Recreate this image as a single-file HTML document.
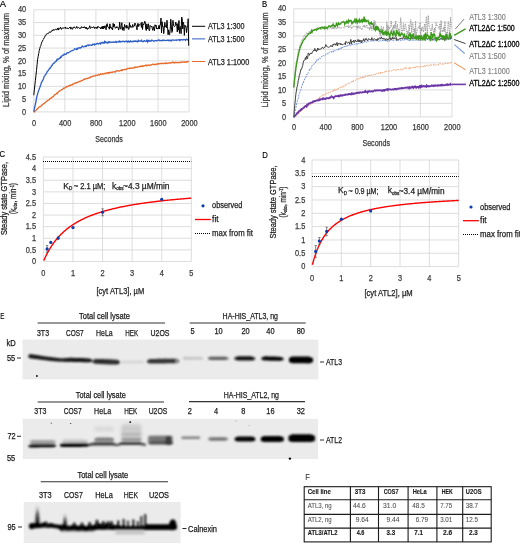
<!DOCTYPE html><html><head><meta charset="utf-8"><style>
html,body{margin:0;padding:0;background:#fff;width:520px;height:543px;overflow:hidden;position:relative;font-family:"Liberation Sans",sans-serif}
</style></head><body>
<svg width="520" height="543" viewBox="0 0 520 543" style="position:absolute;left:0;top:0">
<defs><filter id="gb" x="0" y="0" width="520" height="543" filterUnits="userSpaceOnUse"><feGaussianBlur stdDeviation="0.3"/></filter><filter id="bl" x="-5%" y="-50%" width="110%" height="200%"><feGaussianBlur stdDeviation="0.85"/></filter><filter id="bl2" x="-10%" y="-50%" width="120%" height="200%"><feGaussianBlur stdDeviation="1.6"/></filter></defs>
<g font-family='"Liberation Sans", sans-serif' filter="url(#gb)">
<line x1="33.8" y1="111.90" x2="189.1" y2="111.90" stroke="#d9d9d9" stroke-width="0.9"/>
<text x="26.20" y="114.56" font-size="8.5" text-anchor="end" textLength="4.11" lengthAdjust="spacingAndGlyphs" fill="#3a3a3a" stroke="#3a3a3a" stroke-width="0.25">0</text>
<line x1="33.8" y1="99.14" x2="189.1" y2="99.14" stroke="#d9d9d9" stroke-width="0.9"/>
<text x="26.20" y="101.80" font-size="8.5" text-anchor="end" textLength="4.11" lengthAdjust="spacingAndGlyphs" fill="#3a3a3a" stroke="#3a3a3a" stroke-width="0.25">5</text>
<line x1="33.8" y1="86.38" x2="189.1" y2="86.38" stroke="#d9d9d9" stroke-width="0.9"/>
<text x="26.20" y="89.03" font-size="8.5" text-anchor="end" textLength="8.23" lengthAdjust="spacingAndGlyphs" fill="#3a3a3a" stroke="#3a3a3a" stroke-width="0.25">10</text>
<line x1="33.8" y1="73.61" x2="189.1" y2="73.61" stroke="#d9d9d9" stroke-width="0.9"/>
<text x="26.20" y="76.27" font-size="8.5" text-anchor="end" textLength="8.23" lengthAdjust="spacingAndGlyphs" fill="#3a3a3a" stroke="#3a3a3a" stroke-width="0.25">15</text>
<line x1="33.8" y1="60.85" x2="189.1" y2="60.85" stroke="#d9d9d9" stroke-width="0.9"/>
<text x="26.20" y="63.51" font-size="8.5" text-anchor="end" textLength="8.23" lengthAdjust="spacingAndGlyphs" fill="#3a3a3a" stroke="#3a3a3a" stroke-width="0.25">20</text>
<line x1="33.8" y1="48.09" x2="189.1" y2="48.09" stroke="#d9d9d9" stroke-width="0.9"/>
<text x="26.20" y="50.75" font-size="8.5" text-anchor="end" textLength="8.23" lengthAdjust="spacingAndGlyphs" fill="#3a3a3a" stroke="#3a3a3a" stroke-width="0.25">25</text>
<line x1="33.8" y1="35.32" x2="189.1" y2="35.32" stroke="#d9d9d9" stroke-width="0.9"/>
<text x="26.20" y="37.98" font-size="8.5" text-anchor="end" textLength="8.23" lengthAdjust="spacingAndGlyphs" fill="#3a3a3a" stroke="#3a3a3a" stroke-width="0.25">30</text>
<line x1="33.8" y1="22.56" x2="189.1" y2="22.56" stroke="#d9d9d9" stroke-width="0.9"/>
<text x="26.20" y="25.22" font-size="8.5" text-anchor="end" textLength="8.23" lengthAdjust="spacingAndGlyphs" fill="#3a3a3a" stroke="#3a3a3a" stroke-width="0.25">35</text>
<line x1="33.8" y1="9.80" x2="189.1" y2="9.80" stroke="#d9d9d9" stroke-width="0.9"/>
<text x="26.20" y="12.46" font-size="8.5" text-anchor="end" textLength="8.23" lengthAdjust="spacingAndGlyphs" fill="#3a3a3a" stroke="#3a3a3a" stroke-width="0.25">40</text>
<line x1="33.80" y1="9.8" x2="33.80" y2="111.9" stroke="#d9d9d9" stroke-width="0.9"/>
<text x="34.10" y="126.06" font-size="8.5" text-anchor="middle" textLength="4.11" lengthAdjust="spacingAndGlyphs" fill="#3a3a3a" stroke="#3a3a3a" stroke-width="0.25">0</text>
<line x1="64.86" y1="9.8" x2="64.86" y2="111.9" stroke="#d9d9d9" stroke-width="0.9"/>
<text x="65.16" y="126.06" font-size="8.5" text-anchor="middle" textLength="12.34" lengthAdjust="spacingAndGlyphs" fill="#3a3a3a" stroke="#3a3a3a" stroke-width="0.25">400</text>
<line x1="95.92" y1="9.8" x2="95.92" y2="111.9" stroke="#d9d9d9" stroke-width="0.9"/>
<text x="96.22" y="126.06" font-size="8.5" text-anchor="middle" textLength="12.34" lengthAdjust="spacingAndGlyphs" fill="#3a3a3a" stroke="#3a3a3a" stroke-width="0.25">800</text>
<line x1="126.98" y1="9.8" x2="126.98" y2="111.9" stroke="#d9d9d9" stroke-width="0.9"/>
<text x="127.28" y="126.06" font-size="8.5" text-anchor="middle" textLength="16.45" lengthAdjust="spacingAndGlyphs" fill="#3a3a3a" stroke="#3a3a3a" stroke-width="0.25">1200</text>
<line x1="158.04" y1="9.8" x2="158.04" y2="111.9" stroke="#d9d9d9" stroke-width="0.9"/>
<text x="158.34" y="126.06" font-size="8.5" text-anchor="middle" textLength="16.45" lengthAdjust="spacingAndGlyphs" fill="#3a3a3a" stroke="#3a3a3a" stroke-width="0.25">1600</text>
<line x1="189.10" y1="9.8" x2="189.10" y2="111.9" stroke="#d9d9d9" stroke-width="0.9"/>
<text x="189.40" y="126.06" font-size="8.5" text-anchor="middle" textLength="16.45" lengthAdjust="spacingAndGlyphs" fill="#3a3a3a" stroke="#3a3a3a" stroke-width="0.25">2000</text>
<text x="95.30" y="142.06" font-size="8.5" textLength="27.5" lengthAdjust="spacingAndGlyphs" fill="#3a3a3a" stroke="#3a3a3a" stroke-width="0.25">Seconds</text>
<text x="5.50" y="63.06" font-size="8.5" text-anchor="middle" textLength="94" lengthAdjust="spacingAndGlyphs" transform="rotate(-90 5.50 60.00)" fill="#3a3a3a" stroke="#3a3a3a" stroke-width="0.25">Lipid mixing, % of maximum</text>
<polyline fill="none" stroke="#e8692a" stroke-width="1.3" points="33.80,111.94 34.34,112.09 34.89,110.89 35.43,110.91 35.97,110.41 36.52,109.79 37.06,108.85 37.60,108.82 38.15,108.20 38.69,107.38 39.24,106.97 39.78,106.96 40.32,106.55 40.87,106.37 41.41,105.79 41.95,105.06 42.50,104.63 43.04,104.27 43.58,103.61 44.13,103.63 44.67,103.02 45.21,102.39 45.76,102.00 46.30,101.45 46.85,101.19 47.39,100.93 47.93,100.32 48.48,100.23 49.02,99.95 49.56,98.94 50.11,98.66 50.65,98.12 51.19,98.19 51.74,97.40 52.28,97.02 52.82,96.65 53.37,96.56 53.91,95.64 54.45,94.89 55.00,94.59 55.54,94.41 56.09,93.84 56.63,93.22 57.17,93.71 57.72,92.62 58.26,92.05 58.80,91.62 59.35,90.97 59.89,90.73 60.43,90.56 60.98,90.20 61.52,89.71 62.06,89.70 62.61,89.23 63.15,88.65 63.70,88.06 64.24,88.29 64.78,87.96 65.33,87.61 65.87,87.03 66.41,87.10 66.96,86.45 67.50,86.80 68.04,86.34 68.59,86.09 69.13,85.59 69.67,85.27 70.22,85.68 70.76,85.29 71.30,84.74 71.85,84.76 72.39,84.76 72.94,83.88 73.48,83.80 74.02,83.58 74.57,83.61 75.11,83.01 75.65,83.12 76.20,82.56 76.74,82.86 77.28,82.64 77.83,82.15 78.37,82.17 78.91,81.61 79.46,81.50 80.00,81.59 80.55,81.12 81.09,81.01 81.63,80.47 82.18,80.64 82.72,80.37 83.26,79.72 83.81,79.24 84.35,79.07 84.89,79.34 85.44,79.07 85.98,78.51 86.52,78.71 87.07,78.71 87.61,78.21 88.16,77.90 88.70,78.01 89.24,78.01 89.79,77.75 90.33,77.01 90.87,77.17 91.42,76.82 91.96,76.54 92.50,76.25 93.05,76.31 93.59,75.93 94.13,76.12 94.68,75.82 95.22,75.84 95.76,75.15 96.31,75.31 96.85,75.37 97.40,75.15 97.94,75.00 98.48,74.65 99.03,75.13 99.57,74.89 100.11,74.62 100.66,73.78 101.20,74.08 101.74,74.26 102.29,73.95 102.83,73.51 103.37,74.00 103.92,73.93 104.46,73.43 105.01,73.50 105.55,73.35 106.09,73.54 106.64,72.80 107.18,72.75 107.72,72.93 108.27,72.78 108.81,73.36 109.35,72.56 109.90,72.66 110.44,72.38 110.98,72.20 111.53,72.34 112.07,72.57 112.61,71.93 113.16,72.09 113.70,71.87 114.25,71.82 114.79,71.63 115.33,72.01 115.88,71.00 116.42,71.12 116.96,70.79 117.51,70.45 118.05,70.83 118.59,71.18 119.14,70.83 119.68,70.79 120.22,70.50 120.77,70.23 121.31,70.65 121.86,69.94 122.40,70.30 122.94,69.73 123.49,69.72 124.03,69.67 124.57,69.50 125.12,69.51 125.66,69.42 126.20,69.59 126.75,69.07 127.29,68.49 127.83,68.35 128.38,68.42 128.92,68.47 129.46,68.72 130.01,68.08 130.55,68.36 131.10,68.26 131.64,68.21 132.18,68.01 132.73,68.04 133.27,67.85 133.81,68.00 134.36,67.72 134.90,66.93 135.44,67.43 135.99,67.37 136.53,67.07 137.07,66.92 137.62,67.29 138.16,66.95 138.71,66.57 139.25,66.63 139.79,66.57 140.34,66.10 140.88,66.57 141.42,66.28 141.97,66.34 142.51,65.73 143.05,66.51 143.60,66.09 144.14,65.96 144.68,65.56 145.23,65.49 145.77,65.19 146.31,65.86 146.86,65.18 147.40,65.36 147.95,65.37 148.49,64.98 149.03,65.27 149.58,65.48 150.12,64.97 150.66,65.18 151.21,64.88 151.75,64.55 152.29,64.49 152.84,64.09 153.38,64.48 153.92,64.75 154.47,64.49 155.01,64.47 155.56,64.48 156.10,64.00 156.64,64.22 157.19,64.50 157.73,63.76 158.27,63.92 158.82,63.75 159.36,63.76 159.90,63.58 160.45,63.68 160.99,63.32 161.53,63.48 162.08,63.44 162.62,63.38 163.16,63.81 163.71,63.43 164.25,63.41 164.80,63.24 165.34,63.59 165.88,62.78 166.43,63.13 166.97,63.42 167.51,63.50 168.06,63.09 168.60,63.00 169.14,63.11 169.69,62.86 170.23,63.01 170.77,62.66 171.32,62.94 171.86,62.73 172.41,62.43 172.95,61.98 173.49,62.85 174.04,62.68 174.58,62.74 175.12,62.28 175.67,62.74 176.21,62.54 176.75,62.39 177.30,62.59 177.84,62.56 178.38,62.40 178.93,62.79 179.47,62.59 180.01,62.30 180.56,62.13 181.10,62.18 181.65,62.56 182.19,62.20 182.73,61.86 183.28,61.90 183.82,62.04 184.36,62.22 184.91,61.82 185.45,62.11 185.99,62.24 186.54,62.13 187.08,61.54 187.62,61.84 188.17,61.59 188.71,62.00"/>
<polyline fill="none" stroke="#2f5fc4" stroke-width="1.3" points="33.80,111.90 34.34,108.48 34.89,106.51 35.43,103.77 35.97,101.75 36.52,98.02 37.06,95.98 37.60,93.91 38.15,92.11 38.69,90.61 39.24,88.92 39.78,87.53 40.32,86.00 40.87,84.46 41.41,82.53 41.95,81.58 42.50,80.57 43.04,79.58 43.58,78.47 44.13,76.53 44.67,75.93 45.21,75.13 45.76,74.36 46.30,73.76 46.85,72.49 47.39,71.28 47.93,70.95 48.48,70.09 49.02,69.31 49.56,68.43 50.11,68.35 50.65,67.13 51.19,66.68 51.74,65.35 52.28,65.33 52.82,64.19 53.37,63.22 53.91,63.34 54.45,62.88 55.00,62.02 55.54,61.55 56.09,61.41 56.63,60.35 57.17,59.26 57.72,59.65 58.26,59.17 58.80,59.04 59.35,58.08 59.89,58.26 60.43,57.79 60.98,56.48 61.52,56.93 62.06,55.80 62.61,55.26 63.15,55.40 63.70,54.95 64.24,54.08 64.78,54.59 65.33,54.43 65.87,54.42 66.41,53.58 66.96,52.73 67.50,52.64 68.04,53.08 68.59,52.76 69.13,52.34 69.67,51.76 70.22,51.68 70.76,51.25 71.30,50.95 71.85,50.92 72.39,50.57 72.94,50.23 73.48,50.09 74.02,49.63 74.57,48.88 75.11,49.14 75.65,49.12 76.20,49.57 76.74,48.57 77.28,49.26 77.83,48.85 78.37,47.79 78.91,47.66 79.46,47.81 80.00,48.24 80.55,47.56 81.09,47.51 81.63,46.85 82.18,46.08 82.72,46.71 83.26,46.95 83.81,46.96 84.35,46.39 84.89,46.30 85.44,46.54 85.98,45.93 86.52,46.29 87.07,45.30 87.61,45.19 88.16,45.07 88.70,45.55 89.24,45.05 89.79,45.19 90.33,45.18 90.87,45.05 91.42,45.31 91.96,45.27 92.50,44.31 93.05,44.58 93.59,44.33 94.13,43.93 94.68,44.88 95.22,44.42 95.76,43.96 96.31,43.79 96.85,43.99 97.40,43.36 97.94,43.57 98.48,44.03 99.03,43.82 99.57,43.07 100.11,43.11 100.66,43.92 101.20,42.59 101.74,42.79 102.29,42.42 102.83,43.00 103.37,42.89 103.92,43.13 104.46,41.66 105.01,42.63 105.55,41.89 106.09,42.68 106.64,42.31 107.18,42.97 107.72,42.43 108.27,41.86 108.81,42.68 109.35,41.76 109.90,42.00 110.44,42.50 110.98,42.26 111.53,42.21 112.07,42.03 112.61,42.18 113.16,42.26 113.70,42.04 114.25,42.28 114.79,42.36 115.33,41.86 115.88,41.47 116.42,42.37 116.96,41.76 117.51,41.99 118.05,42.09 118.59,41.36 119.14,41.87 119.68,41.07 120.22,41.92 120.77,41.46 121.31,41.67 121.86,41.85 122.40,41.32 122.94,41.58 123.49,41.28 124.03,41.51 124.57,41.89 125.12,41.49 125.66,41.41 126.20,41.05 126.75,41.75 127.29,41.40 127.83,42.03 128.38,41.10 128.92,41.75 129.46,42.01 130.01,41.33 130.55,40.86 131.10,41.85 131.64,41.67 132.18,41.53 132.73,41.66 133.27,41.06 133.81,41.50 134.36,41.46 134.90,40.94 135.44,41.44 135.99,40.97 136.53,41.49 137.07,41.57 137.62,41.79 138.16,40.36 138.71,41.18 139.25,40.95 139.79,41.04 140.34,40.95 140.88,40.97 141.42,40.24 141.97,41.36 142.51,41.54 143.05,41.31 143.60,41.42 144.14,40.60 144.68,40.56 145.23,41.22 145.77,41.37 146.31,40.96 146.86,40.27 147.40,41.87 147.95,40.57 148.49,41.16 149.03,40.34 149.58,41.13 150.12,40.81 150.66,41.26 151.21,41.04 151.75,40.12 152.29,40.32 152.84,40.77 153.38,40.94 153.92,41.31 154.47,40.72 155.01,40.56 155.56,40.57 156.10,40.56 156.64,40.93 157.19,40.51 157.73,40.49 158.27,39.96 158.82,39.73 159.36,40.48 159.90,40.70 160.45,40.42 160.99,40.61 161.53,40.65 162.08,40.37 162.62,40.73 163.16,40.08 163.71,40.34 164.25,40.19 164.80,40.34 165.34,40.53 165.88,40.60 166.43,40.32 166.97,40.42 167.51,40.10 168.06,40.18 168.60,40.69 169.14,40.12 169.69,40.65 170.23,40.36 170.77,40.22 171.32,40.89 171.86,40.04 172.41,40.01 172.95,40.11 173.49,40.20 174.04,40.16 174.58,40.38 175.12,40.10 175.67,40.19 176.21,39.93 176.75,40.41 177.30,39.85 177.84,39.87 178.38,39.97 178.93,40.07 179.47,39.67 180.01,40.51 180.56,39.68 181.10,39.75 181.65,39.72 182.19,39.67 182.73,40.06 183.28,39.89 183.82,39.54 184.36,39.60 184.91,39.68 185.45,40.32 185.99,39.53 186.54,39.27 187.08,39.32 187.62,39.61 188.17,40.28 188.71,39.31"/>
<polyline fill="none" stroke="#000" stroke-width="1" points="33.80,95.31 34.34,89.96 34.89,85.05 35.43,80.28 35.97,75.19 36.52,70.45 37.06,64.83 37.60,59.44 38.15,56.41 38.69,53.63 39.24,50.61 39.78,48.47 40.32,46.64 40.87,45.42 41.41,43.41 41.95,41.61 42.50,41.32 43.04,39.59 43.58,39.05 44.13,37.86 44.67,37.14 45.21,35.64 45.76,35.64 46.30,34.20 46.85,33.77 47.39,33.52 47.93,33.97 48.48,32.94 49.02,32.29 49.56,31.86 50.11,32.63 50.65,31.67 51.19,31.75 51.74,31.39 52.28,29.87 52.82,30.92 53.37,30.17 53.91,29.31 54.45,30.17 55.00,29.66 55.54,29.35 56.09,29.25 56.63,30.11 57.17,29.03 57.72,27.94 58.26,30.10 58.80,28.14 59.35,28.63 59.89,29.15 60.43,27.15 60.98,27.90 61.52,29.41 62.06,28.33 62.61,27.87 63.15,28.44 63.70,27.69 64.24,28.27 64.78,27.63 65.33,26.96 65.87,28.70 66.41,27.94 66.96,28.48 67.50,27.96 68.04,29.06 68.59,28.52 69.13,28.18 69.67,27.21 70.22,26.97 70.76,29.12 71.30,28.64 71.85,27.35 72.39,29.33 72.94,28.31 73.48,27.97 74.02,26.73 74.57,27.23 75.11,28.14 75.65,28.17 76.20,28.05 76.74,26.40 77.28,28.20 77.83,28.07 78.37,27.45 78.91,27.88 79.46,27.95 80.00,28.81 80.55,27.75 81.09,28.16 81.63,26.60 82.18,27.08 82.72,27.73 83.26,27.04 83.81,28.02 84.35,26.64 84.89,27.68 85.44,27.08 85.98,28.95 86.52,27.29 87.07,29.25 87.61,29.25 88.16,27.92 88.70,28.52 89.24,27.42 89.79,25.72 90.33,28.43 90.87,28.21 91.42,27.33 91.96,27.01 92.50,27.70 93.05,27.72 93.59,26.74 94.13,26.91 94.68,28.56 95.22,27.52 95.76,27.38 96.31,28.55 96.85,27.09 97.40,28.30 97.94,26.26 98.48,27.09 99.03,27.18 99.57,27.91 100.11,27.35 100.66,28.99 101.20,28.44 101.74,26.72 102.29,28.92 102.83,26.10 103.37,28.87 103.92,26.08 104.46,28.14 105.01,25.73 105.55,26.68 106.09,29.76 106.64,24.30 107.18,23.64 107.72,26.95 108.27,27.46 108.81,27.15 109.35,29.21 109.90,23.88 110.44,28.07 110.98,26.79 111.53,28.68 112.07,28.24 112.61,29.91 113.16,23.36 113.70,26.99 114.25,24.08 114.79,26.53 115.33,28.34 115.88,27.38 116.42,27.97 116.96,26.49 117.51,27.47 118.05,27.26 118.59,30.06 119.14,28.56 119.68,22.12 120.22,28.18 120.77,29.17 121.31,25.52 121.86,22.70 122.40,30.20 122.94,26.92 123.49,28.02 124.03,30.56 124.57,24.40 125.12,26.39 125.66,26.13 126.20,28.29 126.75,25.09 127.29,27.71 127.83,26.65 128.38,29.21 128.92,29.49 129.46,22.69 130.01,27.59 130.55,25.45 131.10,26.31 131.64,27.39 132.18,27.57 132.73,24.51 133.27,27.00 133.81,26.59 134.36,26.12 134.90,23.01 135.44,24.34 135.99,25.13 136.53,27.68 137.07,29.89 137.62,23.59 138.16,23.53 138.71,26.53 139.25,24.67 139.79,24.02 140.34,23.88 140.88,23.63 141.42,27.38 141.97,22.01 142.51,29.54 143.05,23.78 143.60,24.79 144.14,23.75 144.68,21.21 145.23,22.07 145.77,29.28 146.31,30.53 146.86,23.89 147.40,28.93 147.95,26.17 148.49,23.82 149.03,30.56 149.58,30.57 150.12,25.43 150.66,26.02 151.21,26.83 151.75,26.04 152.29,28.54 152.84,30.36 153.38,26.62 153.92,28.86 154.47,30.62 155.01,24.75 155.56,26.33 156.10,25.03 156.64,28.94 157.19,28.01 157.73,28.98 158.27,28.79 158.82,25.54 159.36,28.99 159.90,24.79 160.45,24.75 160.99,18.00 161.53,32.99 162.08,21.66 162.62,26.66 163.16,26.28 163.71,33.66 164.25,28.59 164.80,22.39 165.34,26.65 165.88,25.81 166.43,27.75 166.97,20.24 167.51,26.36 168.06,34.61 168.60,29.88 169.14,34.65 169.69,34.67 170.23,29.07 170.77,19.26 171.32,26.05 171.86,32.51 172.41,31.30 172.95,20.31 173.49,25.49 174.04,26.08 174.58,26.63 175.12,26.14 175.67,22.04 176.21,23.40 176.75,25.21 177.30,32.01 177.84,23.63 178.38,30.11 178.93,20.48 179.47,33.33 180.01,27.18 180.56,26.49 181.10,33.70 181.65,17.04 182.19,18.47 182.73,29.04 183.28,22.25 183.82,24.43 184.36,35.37 184.91,25.15 185.45,26.89 185.99,26.10 186.54,32.57 187.08,28.10 187.62,27.60 188.17,18.73 188.71,45.79"/>
<line x1="192" y1="26.3" x2="205.2" y2="26.3" stroke="#000" stroke-width="1"/>
<text x="207.90" y="29.36" font-size="8.5" textLength="36.6" lengthAdjust="spacingAndGlyphs" fill="#222" stroke="#222" stroke-width="0.25">ATL3 1:300</text>
<line x1="192" y1="38.9" x2="205.2" y2="38.9" stroke="#2f5fc4" stroke-width="1"/>
<text x="207.90" y="41.96" font-size="8.5" textLength="36.6" lengthAdjust="spacingAndGlyphs" fill="#222" stroke="#222" stroke-width="0.25">ATL3 1:500</text>
<line x1="192" y1="61.5" x2="205.2" y2="61.5" stroke="#e8692a" stroke-width="1"/>
<text x="207.90" y="64.56" font-size="8.5" textLength="41.3" lengthAdjust="spacingAndGlyphs" fill="#222" stroke="#222" stroke-width="0.25">ATL3 1:1000</text>
<text x="-0.30" y="6.55" font-size="9.3" textLength="6.3" lengthAdjust="spacingAndGlyphs" fill="#000" stroke="#000" stroke-width="0.15">A</text>
<line x1="293.8" y1="116.90" x2="452" y2="116.90" stroke="#d9d9d9" stroke-width="0.9"/>
<text x="286.20" y="119.56" font-size="8.5" text-anchor="end" textLength="4.11" lengthAdjust="spacingAndGlyphs" fill="#3a3a3a" stroke="#3a3a3a" stroke-width="0.25">0</text>
<line x1="293.8" y1="103.39" x2="452" y2="103.39" stroke="#d9d9d9" stroke-width="0.9"/>
<text x="286.20" y="106.05" font-size="8.5" text-anchor="end" textLength="4.11" lengthAdjust="spacingAndGlyphs" fill="#3a3a3a" stroke="#3a3a3a" stroke-width="0.25">5</text>
<line x1="293.8" y1="89.88" x2="452" y2="89.88" stroke="#d9d9d9" stroke-width="0.9"/>
<text x="286.20" y="92.53" font-size="8.5" text-anchor="end" textLength="8.23" lengthAdjust="spacingAndGlyphs" fill="#3a3a3a" stroke="#3a3a3a" stroke-width="0.25">10</text>
<line x1="293.8" y1="76.36" x2="452" y2="76.36" stroke="#d9d9d9" stroke-width="0.9"/>
<text x="286.20" y="79.02" font-size="8.5" text-anchor="end" textLength="8.23" lengthAdjust="spacingAndGlyphs" fill="#3a3a3a" stroke="#3a3a3a" stroke-width="0.25">15</text>
<line x1="293.8" y1="62.85" x2="452" y2="62.85" stroke="#d9d9d9" stroke-width="0.9"/>
<text x="286.20" y="65.51" font-size="8.5" text-anchor="end" textLength="8.23" lengthAdjust="spacingAndGlyphs" fill="#3a3a3a" stroke="#3a3a3a" stroke-width="0.25">20</text>
<line x1="293.8" y1="49.34" x2="452" y2="49.34" stroke="#d9d9d9" stroke-width="0.9"/>
<text x="286.20" y="52.00" font-size="8.5" text-anchor="end" textLength="8.23" lengthAdjust="spacingAndGlyphs" fill="#3a3a3a" stroke="#3a3a3a" stroke-width="0.25">25</text>
<line x1="293.8" y1="35.82" x2="452" y2="35.82" stroke="#d9d9d9" stroke-width="0.9"/>
<text x="286.20" y="38.48" font-size="8.5" text-anchor="end" textLength="8.23" lengthAdjust="spacingAndGlyphs" fill="#3a3a3a" stroke="#3a3a3a" stroke-width="0.25">30</text>
<line x1="293.8" y1="22.31" x2="452" y2="22.31" stroke="#d9d9d9" stroke-width="0.9"/>
<text x="286.20" y="24.97" font-size="8.5" text-anchor="end" textLength="8.23" lengthAdjust="spacingAndGlyphs" fill="#3a3a3a" stroke="#3a3a3a" stroke-width="0.25">35</text>
<line x1="293.8" y1="8.80" x2="452" y2="8.80" stroke="#d9d9d9" stroke-width="0.9"/>
<text x="286.20" y="11.46" font-size="8.5" text-anchor="end" textLength="8.23" lengthAdjust="spacingAndGlyphs" fill="#3a3a3a" stroke="#3a3a3a" stroke-width="0.25">40</text>
<line x1="293.80" y1="8.8" x2="293.80" y2="116.9" stroke="#d9d9d9" stroke-width="0.9"/>
<text x="294.10" y="130.46" font-size="8.5" text-anchor="middle" textLength="4.11" lengthAdjust="spacingAndGlyphs" fill="#3a3a3a" stroke="#3a3a3a" stroke-width="0.25">0</text>
<line x1="325.44" y1="8.8" x2="325.44" y2="116.9" stroke="#d9d9d9" stroke-width="0.9"/>
<text x="325.74" y="130.46" font-size="8.5" text-anchor="middle" textLength="12.34" lengthAdjust="spacingAndGlyphs" fill="#3a3a3a" stroke="#3a3a3a" stroke-width="0.25">400</text>
<line x1="357.08" y1="8.8" x2="357.08" y2="116.9" stroke="#d9d9d9" stroke-width="0.9"/>
<text x="357.38" y="130.46" font-size="8.5" text-anchor="middle" textLength="12.34" lengthAdjust="spacingAndGlyphs" fill="#3a3a3a" stroke="#3a3a3a" stroke-width="0.25">800</text>
<line x1="388.72" y1="8.8" x2="388.72" y2="116.9" stroke="#d9d9d9" stroke-width="0.9"/>
<text x="389.02" y="130.46" font-size="8.5" text-anchor="middle" textLength="16.45" lengthAdjust="spacingAndGlyphs" fill="#3a3a3a" stroke="#3a3a3a" stroke-width="0.25">1200</text>
<line x1="420.36" y1="8.8" x2="420.36" y2="116.9" stroke="#d9d9d9" stroke-width="0.9"/>
<text x="420.66" y="130.46" font-size="8.5" text-anchor="middle" textLength="16.45" lengthAdjust="spacingAndGlyphs" fill="#3a3a3a" stroke="#3a3a3a" stroke-width="0.25">1600</text>
<line x1="452.00" y1="8.8" x2="452.00" y2="116.9" stroke="#d9d9d9" stroke-width="0.9"/>
<text x="452.30" y="130.46" font-size="8.5" text-anchor="middle" textLength="16.45" lengthAdjust="spacingAndGlyphs" fill="#3a3a3a" stroke="#3a3a3a" stroke-width="0.25">2000</text>
<text x="362.40" y="145.66" font-size="8.5" textLength="27.7" lengthAdjust="spacingAndGlyphs" fill="#3a3a3a" stroke="#3a3a3a" stroke-width="0.25">Seconds</text>
<text x="265.30" y="63.06" font-size="8.5" text-anchor="middle" textLength="95" lengthAdjust="spacingAndGlyphs" transform="rotate(-90 265.30 60.00)" fill="#3a3a3a" stroke="#3a3a3a" stroke-width="0.25">Lipid mixing, % of maximum</text>
<polyline fill="none" stroke="#f09a68" stroke-width="1.0" stroke-dasharray="2 1" points="293.80,116.97 294.35,116.81 294.91,115.68 295.46,115.76 296.01,115.30 296.57,115.21 297.12,114.53 297.68,113.50 298.23,113.98 298.78,112.92 299.34,112.16 299.89,112.17 300.44,111.49 301.00,111.61 301.55,110.20 302.11,109.86 302.66,109.79 303.21,110.17 303.77,109.46 304.32,108.23 304.87,107.51 305.43,107.67 305.98,106.88 306.54,107.22 307.09,106.64 307.64,106.16 308.20,105.58 308.75,105.97 309.30,104.57 309.86,104.02 310.41,104.63 310.96,104.32 311.52,103.24 312.07,103.25 312.63,103.55 313.18,101.87 313.73,101.74 314.29,101.60 314.84,100.16 315.39,100.56 315.95,100.54 316.50,99.80 317.06,99.88 317.61,99.38 318.16,98.53 318.72,98.54 319.27,98.13 319.82,96.90 320.38,96.86 320.93,96.53 321.49,96.29 322.04,95.96 322.59,95.23 323.15,95.50 323.70,94.41 324.25,95.23 324.81,94.64 325.36,94.80 325.91,94.09 326.47,93.46 327.02,92.80 327.58,93.39 328.13,92.85 328.68,92.74 329.24,92.64 329.79,92.58 330.34,91.83 330.90,92.31 331.45,91.33 332.01,91.13 332.56,91.18 333.11,91.09 333.67,91.02 334.22,89.47 334.77,90.55 335.33,89.15 335.88,89.31 336.43,89.48 336.99,89.58 337.54,88.46 338.10,87.96 338.65,88.81 339.20,88.32 339.76,87.54 340.31,87.59 340.86,86.68 341.42,87.47 341.97,86.77 342.53,87.25 343.08,85.63 343.63,86.51 344.19,86.84 344.74,85.72 345.29,85.44 345.85,84.31 346.40,84.93 346.96,84.50 347.51,83.95 348.06,83.25 348.62,83.61 349.17,82.86 349.72,82.76 350.28,82.79 350.83,82.33 351.38,82.05 351.94,82.13 352.49,80.97 353.05,81.73 353.60,80.41 354.15,80.22 354.71,80.36 355.26,80.37 355.81,79.89 356.37,79.35 356.92,78.99 357.48,78.94 358.03,78.43 358.58,78.85 359.14,78.32 359.69,78.86 360.24,77.74 360.80,77.81 361.35,77.87 361.91,77.06 362.46,77.10 363.01,78.36 363.57,77.05 364.12,77.51 364.67,76.35 365.23,75.63 365.78,76.71 366.33,76.34 366.89,76.34 367.44,75.96 368.00,75.71 368.55,75.32 369.10,76.12 369.66,74.95 370.21,75.84 370.76,75.22 371.32,74.74 371.87,74.79 372.43,75.33 372.98,75.10 373.53,74.87 374.09,74.57 374.64,73.95 375.19,74.79 375.75,73.94 376.30,73.74 376.86,73.61 377.41,73.50 377.96,72.93 378.52,73.20 379.07,72.90 379.62,72.87 380.18,72.23 380.73,73.58 381.28,72.14 381.84,72.63 382.39,72.49 382.95,72.63 383.50,72.86 384.05,72.12 384.61,72.11 385.16,71.50 385.71,72.17 386.27,70.87 386.82,71.22 387.38,71.32 387.93,71.39 388.48,71.32 389.04,71.36 389.59,71.02 390.14,70.70 390.70,70.68 391.25,71.09 391.80,70.53 392.36,70.69 392.91,70.17 393.47,69.39 394.02,69.81 394.57,70.10 395.13,70.55 395.68,70.38 396.23,70.40 396.79,69.34 397.34,69.87 397.90,69.45 398.45,69.65 399.00,69.28 399.56,68.67 400.11,69.44 400.66,69.23 401.22,69.34 401.77,68.59 402.33,69.28 402.88,69.25 403.43,69.28 403.99,69.22 404.54,68.39 405.09,67.47 405.65,68.84 406.20,67.98 406.75,68.20 407.31,68.68 407.86,68.28 408.42,68.19 408.97,68.31 409.52,67.18 410.08,68.67 410.63,67.67 411.18,67.63 411.74,67.93 412.29,67.57 412.85,67.20 413.40,67.43 413.95,67.26 414.51,67.08 415.06,68.11 415.61,66.62 416.17,66.23 416.72,66.69 417.28,66.61 417.83,67.52 418.38,66.93 418.94,67.14 419.49,66.98 420.04,66.28 420.60,66.93 421.15,66.59 421.70,67.24 422.26,66.46 422.81,66.29 423.37,66.54 423.92,66.47 424.47,65.35 425.03,66.53 425.58,66.40 426.13,66.23 426.69,65.35 427.24,64.92 427.80,65.56 428.35,65.92 428.90,65.73 429.46,65.06 430.01,65.79 430.56,64.77 431.12,64.71 431.67,65.19 432.23,64.89 432.78,64.78 433.33,64.39 433.89,65.38 434.44,64.41 434.99,64.97 435.55,65.06 436.10,64.64 436.65,64.71 437.21,64.95 437.76,65.14 438.32,64.80 438.87,63.77 439.42,63.50 439.98,63.96 440.53,63.68 441.08,64.31 441.64,64.06 442.19,63.85 442.75,64.34 443.30,64.24 443.85,63.73 444.41,63.84 444.96,64.08 445.51,63.43 446.07,63.63 446.62,63.04 447.17,63.39 447.73,63.45 448.28,63.22 448.84,63.27 449.39,63.41 449.94,63.24 450.50,62.71 451.05,62.69 451.60,62.37"/>
<polyline fill="none" stroke="#6a35a5" stroke-width="1.8" points="293.80,117.45 294.35,116.41 294.91,115.81 295.46,115.02 296.01,114.63 296.57,114.07 297.12,113.08 297.68,112.72 298.23,112.61 298.78,111.27 299.34,110.87 299.89,110.88 300.44,109.94 301.00,109.98 301.55,108.91 302.11,108.87 302.66,108.60 303.21,108.00 303.77,107.67 304.32,106.90 304.87,106.47 305.43,106.08 305.98,105.85 306.54,106.45 307.09,104.84 307.64,105.11 308.20,104.05 308.75,103.42 309.30,103.38 309.86,103.30 310.41,102.95 310.96,102.69 311.52,102.59 312.07,102.39 312.63,102.28 313.18,101.40 313.73,101.59 314.29,101.09 314.84,101.30 315.39,101.02 315.95,100.93 316.50,100.56 317.06,100.28 317.61,100.32 318.16,100.46 318.72,100.35 319.27,99.42 319.82,99.91 320.38,99.78 320.93,99.08 321.49,99.07 322.04,99.12 322.59,99.30 323.15,98.28 323.70,98.79 324.25,98.61 324.81,98.72 325.36,99.00 325.91,98.85 326.47,98.16 327.02,98.05 327.58,98.13 328.13,98.32 328.68,98.29 329.24,97.82 329.79,98.07 330.34,97.20 330.90,97.01 331.45,96.36 332.01,96.89 332.56,97.26 333.11,97.25 333.67,97.98 334.22,96.96 334.77,96.72 335.33,96.25 335.88,96.27 336.43,96.18 336.99,96.20 337.54,95.96 338.10,95.61 338.65,96.33 339.20,96.04 339.76,96.25 340.31,95.18 340.86,95.19 341.42,95.27 341.97,95.80 342.53,95.26 343.08,95.30 343.63,95.10 344.19,95.09 344.74,94.77 345.29,94.97 345.85,94.47 346.40,94.57 346.96,94.65 347.51,94.50 348.06,94.51 348.62,94.01 349.17,94.26 349.72,93.99 350.28,94.12 350.83,94.38 351.38,93.51 351.94,94.06 352.49,93.40 353.05,93.40 353.60,93.99 354.15,93.67 354.71,93.44 355.26,93.46 355.81,93.49 356.37,92.79 356.92,93.02 357.48,92.74 358.03,92.93 358.58,92.61 359.14,92.88 359.69,92.58 360.24,92.31 360.80,92.41 361.35,92.51 361.91,92.64 362.46,92.17 363.01,92.05 363.57,92.18 364.12,92.28 364.67,91.79 365.23,91.10 365.78,91.94 366.33,91.68 366.89,91.60 367.44,92.50 368.00,91.57 368.55,91.78 369.10,91.05 369.66,91.52 370.21,91.63 370.76,91.40 371.32,91.21 371.87,91.39 372.43,91.17 372.98,91.54 373.53,91.12 374.09,90.74 374.64,90.29 375.19,90.65 375.75,90.73 376.30,90.38 376.86,90.38 377.41,90.12 377.96,90.25 378.52,90.59 379.07,90.42 379.62,90.39 380.18,90.30 380.73,90.28 381.28,90.55 381.84,90.92 382.39,90.41 382.95,90.80 383.50,90.07 384.05,90.04 384.61,90.53 385.16,89.71 385.71,89.60 386.27,89.80 386.82,89.24 387.38,89.12 387.93,90.07 388.48,89.29 389.04,89.43 389.59,89.39 390.14,89.17 390.70,89.65 391.25,89.55 391.80,89.58 392.36,89.50 392.91,89.23 393.47,89.62 394.02,89.43 394.57,88.85 395.13,89.00 395.68,88.80 396.23,89.48 396.79,89.07 397.34,88.94 397.90,88.69 398.45,88.84 399.00,88.29 399.56,88.55 400.11,88.47 400.66,88.42 401.22,88.14 401.77,88.46 402.33,87.89 402.88,88.05 403.43,88.10 403.99,88.08 404.54,87.87 405.09,87.65 405.65,87.62 406.20,87.75 406.75,87.53 407.31,87.73 407.86,87.30 408.42,87.67 408.97,88.28 409.52,87.12 410.08,87.46 410.63,87.83 411.18,87.46 411.74,87.63 412.29,86.62 412.85,87.09 413.40,87.71 413.95,86.97 414.51,87.23 415.06,86.43 415.61,87.35 416.17,87.69 416.72,86.89 417.28,86.98 417.83,86.96 418.38,87.48 418.94,86.60 419.49,86.15 420.04,87.27 420.60,86.23 421.15,86.76 421.70,85.77 422.26,86.35 422.81,86.52 423.37,86.06 423.92,86.21 424.47,86.53 425.03,86.07 425.58,86.42 426.13,86.80 426.69,85.52 427.24,86.26 427.80,86.30 428.35,85.96 428.90,86.54 429.46,86.43 430.01,86.12 430.56,86.09 431.12,85.86 431.67,85.49 432.23,85.97 432.78,85.62 433.33,85.55 433.89,86.06 434.44,85.60 434.99,85.94 435.55,85.26 436.10,85.42 436.65,85.53 437.21,85.94 437.76,85.43 438.32,85.69 438.87,85.18 439.42,85.41 439.98,85.61 440.53,85.01 441.08,85.05 441.64,85.44 442.19,84.84 442.75,85.29 443.30,85.26 443.85,85.09 444.41,85.35 444.96,85.22 445.51,85.10 446.07,84.52 446.62,84.50 447.17,85.05 447.73,84.41 448.28,84.92 448.84,84.76 449.39,84.57 449.94,84.74 450.50,84.02 451.05,84.70 451.60,85.15"/>
<polyline fill="none" stroke="#6d8fd6" stroke-width="1.0" stroke-dasharray="2 1" points="293.80,116.85 294.35,114.73 294.91,111.78 295.46,108.66 296.01,107.33 296.57,103.88 297.12,101.74 297.68,99.57 298.23,98.79 298.78,95.62 299.34,93.29 299.89,92.23 300.44,90.06 301.00,89.78 301.55,86.59 302.11,85.83 302.66,83.58 303.21,83.69 303.77,81.01 304.32,80.26 304.87,78.50 305.43,78.28 305.98,77.00 306.54,74.39 307.09,75.02 307.64,73.95 308.20,72.72 308.75,72.15 309.30,70.01 309.86,68.79 310.41,69.20 310.96,68.88 311.52,66.48 312.07,65.70 312.63,65.08 313.18,64.16 313.73,64.55 314.29,63.51 314.84,63.55 315.39,63.00 315.95,61.15 316.50,61.52 317.06,59.42 317.61,60.12 318.16,60.03 318.72,58.80 319.27,57.81 319.82,58.10 320.38,58.61 320.93,57.35 321.49,56.42 322.04,57.06 322.59,56.85 323.15,55.54 323.70,55.67 324.25,56.01 324.81,55.30 325.36,55.19 325.91,54.32 326.47,54.12 327.02,53.27 327.58,53.22 328.13,54.17 328.68,52.83 329.24,52.29 329.79,52.26 330.34,51.69 330.90,52.28 331.45,52.25 332.01,50.98 332.56,51.82 333.11,52.17 333.67,50.22 334.22,50.93 334.77,50.48 335.33,50.85 335.88,50.59 336.43,50.28 336.99,49.64 337.54,49.04 338.10,50.28 338.65,48.43 339.20,49.28 339.76,49.02 340.31,47.89 340.86,48.11 341.42,48.71 341.97,46.70 342.53,47.99 343.08,47.21 343.63,47.06 344.19,46.24 344.74,47.07 345.29,46.11 345.85,46.89 346.40,45.72 346.96,46.58 347.51,46.20 348.06,44.82 348.62,45.52 349.17,45.48 349.72,44.18 350.28,45.05 350.83,45.54 351.38,44.55 351.94,45.45 352.49,44.06 353.05,43.88 353.60,44.71 354.15,44.61 354.71,44.05 355.26,44.01 355.81,44.42 356.37,43.46 356.92,44.76 357.48,43.77 358.03,43.64 358.58,43.46 359.14,43.04 359.69,43.77 360.24,42.69 360.80,43.00 361.35,43.15 361.91,43.43 362.46,43.23 363.01,42.29 363.57,42.90 364.12,42.25 364.67,41.61 365.23,41.53 365.78,41.14 366.33,42.05 366.89,42.39 367.44,41.16 368.00,41.46 368.55,40.94 369.10,41.46 369.66,40.75 370.21,40.87 370.76,40.87 371.32,40.93 371.87,40.93 372.43,40.97 372.98,40.92 373.53,40.47 374.09,41.25 374.64,40.01 375.19,40.98 375.75,40.37 376.30,40.92 376.86,40.99 377.41,39.73 377.96,40.98 378.52,41.48 379.07,41.15 379.62,40.92 380.18,39.56 380.73,40.60 381.28,40.18 381.84,41.21 382.39,40.46 382.95,40.27 383.50,39.65 384.05,40.98 384.61,40.26 385.16,40.41 385.71,41.11 386.27,40.55 386.82,40.67 387.38,41.77 387.93,40.18 388.48,40.20 389.04,40.71 389.59,41.19 390.14,39.65 390.70,40.30 391.25,39.88 391.80,39.65 392.36,40.69 392.91,39.96 393.47,40.51 394.02,40.41 394.57,40.41 395.13,40.35 395.68,39.74 396.23,40.27 396.79,40.41 397.34,40.47 397.90,40.12 398.45,40.78 399.00,40.56 399.56,40.31 400.11,40.58 400.66,40.33 401.22,40.58 401.77,39.16 402.33,39.52 402.88,39.98 403.43,40.25 403.99,39.03 404.54,40.03 405.09,40.24 405.65,40.02 406.20,40.01 406.75,39.40 407.31,40.17 407.86,39.01 408.42,40.61 408.97,39.75 409.52,40.66 410.08,39.13 410.63,40.28 411.18,40.12 411.74,39.58 412.29,39.39 412.85,40.66 413.40,40.23 413.95,40.79 414.51,39.95 415.06,40.07 415.61,40.19 416.17,40.36 416.72,40.18 417.28,40.36 417.83,39.66 418.38,39.11 418.94,40.96 419.49,39.97 420.04,40.11 420.60,39.61 421.15,40.37 421.70,39.92 422.26,40.39 422.81,39.43 423.37,39.74 423.92,39.86 424.47,39.56 425.03,39.88 425.58,40.57 426.13,39.39 426.69,39.54 427.24,39.76 427.80,39.12 428.35,38.98 428.90,40.21 429.46,40.03 430.01,38.75 430.56,38.80 431.12,39.95 431.67,40.17 432.23,39.86 432.78,39.76 433.33,40.33 433.89,39.44 434.44,40.13 434.99,40.07 435.55,38.91 436.10,39.75 436.65,39.40 437.21,39.00 437.76,38.88 438.32,39.49 438.87,39.26 439.42,39.71 439.98,38.30 440.53,38.87 441.08,39.80 441.64,39.18 442.19,38.78 442.75,38.89 443.30,38.14 443.85,38.36 444.41,39.38 444.96,39.11 445.51,39.74 446.07,38.89 446.62,38.92 447.17,37.52 447.73,38.91 448.28,40.07 448.84,39.28 449.39,38.84 449.94,39.56 450.50,39.32 451.05,39.03 451.60,38.63"/>
<polyline fill="none" stroke="#8a8a8a" stroke-width="0.9" stroke-dasharray="1 0.8" points="293.80,87.21 294.35,81.60 294.91,75.28 295.46,68.33 296.01,64.63 296.57,61.64 297.12,58.11 297.68,54.84 298.23,51.56 298.78,50.06 299.34,48.61 299.89,45.87 300.44,44.12 301.00,42.73 301.55,40.74 302.11,40.17 302.66,38.76 303.21,38.93 303.77,36.78 304.32,35.15 304.87,35.22 305.43,34.86 305.98,34.33 306.54,32.76 307.09,34.09 307.64,33.15 308.20,32.39 308.75,31.84 309.30,32.28 309.86,31.46 310.41,31.55 310.96,31.00 311.52,30.91 312.07,31.37 312.63,30.37 313.18,29.54 313.73,30.67 314.29,30.00 314.84,29.22 315.39,30.37 315.95,29.37 316.50,30.19 317.06,28.49 317.61,27.53 318.16,27.67 318.72,29.28 319.27,28.49 319.82,28.90 320.38,28.86 320.93,27.69 321.49,29.86 322.04,27.96 322.59,28.78 323.15,27.58 323.70,28.51 324.25,29.15 324.81,28.35 325.36,27.94 325.91,28.47 326.47,28.06 327.02,28.85 327.58,30.15 328.13,27.60 328.68,27.73 329.24,28.16 329.79,28.19 330.34,27.34 330.90,28.58 331.45,28.77 332.01,28.30 332.56,27.07 333.11,29.29 333.67,27.00 334.22,28.59 334.77,28.98 335.33,26.84 335.88,28.03 336.43,29.10 336.99,28.22 337.54,27.02 338.10,26.75 338.65,28.21 339.20,27.41 339.76,27.10 340.31,28.34 340.86,27.37 341.42,27.71 341.97,28.15 342.53,28.08 343.08,27.51 343.63,27.51 344.19,28.06 344.74,27.89 345.29,26.34 345.85,27.19 346.40,26.49 346.96,26.13 347.51,26.70 348.06,24.98 348.62,28.05 349.17,26.37 349.72,27.48 350.28,25.23 350.83,25.35 351.38,29.08 351.94,28.04 352.49,26.32 353.05,26.16 353.60,26.20 354.15,27.03 354.71,26.45 355.26,26.23 355.81,27.00 356.37,25.81 356.92,29.35 357.48,26.18 358.03,28.18 358.58,25.67 359.14,27.26 359.69,28.28 360.24,26.40 360.80,28.53 361.35,28.64 361.91,29.94 362.46,27.18 363.01,26.17 363.57,25.08 364.12,27.55 364.67,24.93 365.23,27.29 365.78,27.60 366.33,25.98 366.89,24.72 367.44,28.41 368.00,28.20 368.55,28.02 369.10,27.36 369.66,30.34 370.21,24.47 370.76,28.95 371.32,26.18 371.87,30.48 372.43,26.48 372.98,26.34 373.53,29.20 374.09,20.56 374.64,26.40 375.19,21.38 375.75,24.29 376.30,30.10 376.86,29.09 377.41,26.14 377.96,27.50 378.52,27.54 379.07,28.76 379.62,34.35 380.18,28.55 380.73,35.91 381.28,26.34 381.84,30.42 382.39,30.39 382.95,28.54 383.50,26.69 384.05,33.11 384.61,34.33 385.16,31.76 385.71,35.49 386.27,31.41 386.82,21.62 387.38,31.78 387.93,25.21 388.48,33.02 389.04,26.56 389.59,28.96 390.14,27.95 390.70,25.49 391.25,20.81 391.80,26.95 392.36,27.23 392.91,31.58 393.47,25.39 394.02,28.70 394.57,24.38 395.13,27.89 395.68,20.70 396.23,35.74 396.79,28.92 397.34,24.13 397.90,29.15 398.45,30.96 399.00,28.81 399.56,33.40 400.11,27.23 400.66,17.60 401.22,22.96 401.77,32.34 402.33,31.37 402.88,29.42 403.43,23.49 403.99,31.19 404.54,30.64 405.09,23.96 405.65,24.03 406.20,29.31 406.75,32.51 407.31,34.38 407.86,30.73 408.42,37.36 408.97,24.47 409.52,30.46 410.08,25.62 410.63,19.55 411.18,22.57 411.74,32.78 412.29,23.88 412.85,22.60 413.40,31.03 413.95,31.96 414.51,28.21 415.06,34.88 415.61,21.12 416.17,38.54 416.72,32.71 417.28,28.94 417.83,28.75 418.38,26.96 418.94,26.48 419.49,28.69 420.04,22.50 420.60,37.57 421.15,27.72 421.70,31.04 422.26,27.10 422.81,26.68 423.37,32.02 423.92,30.76 424.47,23.94 425.03,26.04 425.58,30.99 426.13,17.84 426.69,16.48 427.24,34.87 427.80,26.24 428.35,15.33 428.90,23.83 429.46,26.62 430.01,28.76 430.56,30.44 431.12,28.79 431.67,30.51 432.23,23.92 432.78,29.76 433.33,29.99 433.89,33.93 434.44,27.98 434.99,32.38 435.55,28.67 436.10,22.23 436.65,25.78 437.21,25.04 437.76,25.82 438.32,27.40 438.87,28.40 439.42,29.38 439.98,23.59 440.53,33.63 441.08,20.37 441.64,27.53 442.19,31.86 442.75,30.43 443.30,31.49 443.85,26.82 444.41,31.75 444.96,21.27 445.51,32.15 446.07,40.65 446.62,31.90 447.17,39.25 447.73,27.95 448.28,21.59 448.84,23.95 449.39,35.52 449.94,32.18 450.50,17.26 451.05,25.84 451.60,27.69"/>
<polyline fill="none" stroke="#3e3e3e" stroke-width="1" points="293.80,117.22 294.35,109.53 294.91,103.77 295.46,98.12 296.01,92.97 296.57,90.20 297.12,86.58 297.68,84.67 298.23,80.57 298.78,78.89 299.34,75.33 299.89,73.99 300.44,71.11 301.00,69.07 301.55,69.22 302.11,67.10 302.66,65.76 303.21,62.79 303.77,60.59 304.32,60.21 304.87,60.26 305.43,57.56 305.98,59.49 306.54,55.87 307.09,57.25 307.64,58.65 308.20,52.93 308.75,53.40 309.30,55.35 309.86,53.73 310.41,53.63 310.96,52.90 311.52,54.00 312.07,52.86 312.63,51.42 313.18,51.31 313.73,50.08 314.29,50.84 314.84,48.42 315.39,51.06 315.95,49.89 316.50,51.71 317.06,50.86 317.61,48.21 318.16,50.15 318.72,48.56 319.27,48.93 319.82,49.68 320.38,48.85 320.93,48.84 321.49,48.66 322.04,47.33 322.59,47.28 323.15,48.29 323.70,48.46 324.25,47.20 324.81,47.42 325.36,46.22 325.91,44.55 326.47,46.14 327.02,46.84 327.58,46.85 328.13,47.38 328.68,47.31 329.24,47.29 329.79,46.60 330.34,46.53 330.90,45.31 331.45,46.29 332.01,46.00 332.56,46.86 333.11,44.06 333.67,45.04 334.22,43.73 334.77,44.57 335.33,43.82 335.88,45.37 336.43,44.37 336.99,42.39 337.54,46.01 338.10,43.65 338.65,43.06 339.20,44.17 339.76,43.75 340.31,43.17 340.86,44.92 341.42,43.79 341.97,44.92 342.53,44.63 343.08,44.47 343.63,43.90 344.19,43.51 344.74,43.10 345.29,44.80 345.85,41.40 346.40,42.08 346.96,42.37 347.51,43.31 348.06,42.93 348.62,42.19 349.17,42.20 349.72,44.11 350.28,41.64 350.83,39.42 351.38,43.92 351.94,41.05 352.49,41.54 353.05,41.90 353.60,40.35 354.15,42.72 354.71,41.31 355.26,39.94 355.81,41.45 356.37,41.57 356.92,40.96 357.48,41.42 358.03,39.40 358.58,41.71 359.14,39.90 359.69,41.90 360.24,39.96 360.80,40.65 361.35,43.00 361.91,40.43 362.46,41.40 363.01,40.73 363.57,38.75 364.12,41.27 364.67,41.16 365.23,38.68 365.78,39.91 366.33,38.48 366.89,39.61 367.44,40.74 368.00,39.89 368.55,38.59 369.10,38.82 369.66,39.69 370.21,39.60 370.76,39.71 371.32,40.12 371.87,37.64 372.43,39.47 372.98,40.54 373.53,39.86 374.09,38.65 374.64,38.70 375.19,39.42 375.75,39.89 376.30,39.18 376.86,40.79 377.41,40.39 377.96,38.31 378.52,39.51 379.07,38.64 379.62,37.78 380.18,38.30 380.73,38.87 381.28,36.79 381.84,38.17 382.39,39.13 382.95,38.04 383.50,38.33 384.05,39.53 384.61,38.59 385.16,38.80 385.71,40.53 386.27,38.76 386.82,38.85 387.38,38.98 387.93,40.14 388.48,38.88 389.04,38.56 389.59,38.41 390.14,39.61 390.70,37.88 391.25,39.67 391.80,38.70 392.36,37.20 392.91,39.14 393.47,38.95 394.02,37.40 394.57,38.81 395.13,38.72 395.68,38.21 396.23,37.40 396.79,40.55 397.34,39.21 397.90,39.38 398.45,39.44 399.00,39.21 399.56,39.19 400.11,38.08 400.66,39.23 401.22,38.24 401.77,37.96 402.33,39.06 402.88,38.22 403.43,36.75 403.99,38.02 404.54,38.95 405.09,38.39 405.65,39.21 406.20,38.05 406.75,37.47 407.31,39.10 407.86,38.50 408.42,37.22 408.97,38.78 409.52,38.11 410.08,39.28 410.63,39.08 411.18,38.78 411.74,36.22 412.29,38.66 412.85,38.77 413.40,38.80 413.95,38.43 414.51,37.65 415.06,38.09 415.61,36.32 416.17,38.06 416.72,36.89 417.28,38.00 417.83,37.69 418.38,39.62 418.94,38.38 419.49,38.32 420.04,38.49 420.60,40.29 421.15,37.42 421.70,38.62 422.26,38.67 422.81,38.50 423.37,38.48 423.92,37.88 424.47,39.47 425.03,39.15 425.58,38.00 426.13,38.14 426.69,38.64 427.24,38.83 427.80,39.08 428.35,38.35 428.90,37.19 429.46,39.31 430.01,36.88 430.56,37.52 431.12,38.76 431.67,37.60 432.23,39.73 432.78,39.99 433.33,39.58 433.89,38.76 434.44,38.69 434.99,38.88 435.55,38.30 436.10,40.43 436.65,37.95 437.21,39.77 437.76,39.06 438.32,38.84 438.87,39.56 439.42,39.77 439.98,39.44 440.53,38.51 441.08,37.95 441.64,37.99 442.19,39.48 442.75,39.30 443.30,39.43 443.85,38.15 444.41,40.52 444.96,37.43 445.51,39.07 446.07,39.37 446.62,38.32 447.17,37.68 447.73,38.35 448.28,37.69 448.84,38.58 449.39,37.56 449.94,37.56 450.50,38.85 451.05,37.41 451.60,38.63"/>
<polyline fill="none" stroke="#3c9a1e" stroke-width="1.4" points="293.80,87.48 294.35,81.53 294.91,76.44 295.46,71.83 296.01,67.54 296.57,63.96 297.12,61.07 297.68,58.21 298.23,55.14 298.78,52.92 299.34,50.43 299.89,48.44 300.44,46.10 301.00,45.74 301.55,44.22 302.11,43.05 302.66,41.74 303.21,40.50 303.77,40.11 304.32,39.37 304.87,38.88 305.43,37.87 305.98,36.60 306.54,36.15 307.09,35.99 307.64,35.14 308.20,34.40 308.75,33.64 309.30,33.59 309.86,32.93 310.41,33.17 310.96,32.41 311.52,30.64 312.07,32.09 312.63,30.81 313.18,30.19 313.73,30.19 314.29,30.15 314.84,29.53 315.39,29.32 315.95,29.20 316.50,30.06 317.06,28.96 317.61,29.25 318.16,28.96 318.72,28.41 319.27,28.06 319.82,27.81 320.38,28.58 320.93,27.61 321.49,27.37 322.04,27.30 322.59,27.05 323.15,27.96 323.70,27.89 324.25,27.12 324.81,28.51 325.36,27.32 325.91,27.72 326.47,27.48 327.02,28.34 327.58,27.61 328.13,26.85 328.68,26.04 329.24,25.82 329.79,26.48 330.34,26.42 330.90,26.77 331.45,25.67 332.01,26.03 332.56,25.21 333.11,24.13 333.67,25.42 334.22,26.49 334.77,25.83 335.33,26.20 335.88,25.85 336.43,23.52 336.99,24.32 337.54,25.75 338.10,23.65 338.65,22.95 339.20,24.32 339.76,24.50 340.31,24.06 340.86,23.34 341.42,22.86 341.97,22.19 342.53,22.02 343.08,21.90 343.63,21.58 344.19,22.17 344.74,24.34 345.29,22.74 345.85,22.14 346.40,22.77 346.96,21.23 347.51,22.52 348.06,23.04 348.62,20.25 349.17,21.02 349.72,21.44 350.28,20.51 350.83,20.26 351.38,21.03 351.94,24.33 352.49,22.13 353.05,21.81 353.60,22.43 354.15,20.91 354.71,19.61 355.26,21.70 355.81,22.50 356.37,18.36 356.92,21.55 357.48,22.56 358.03,20.57 358.58,20.28 359.14,21.78 359.69,19.71 360.24,21.45 360.80,22.04 361.35,20.48 361.91,19.62 362.46,21.61 363.01,20.22 363.57,20.83 364.12,16.56 364.67,21.83 365.23,18.87 365.78,21.21 366.33,21.57 366.89,20.59 367.44,20.65 368.00,20.43 368.55,22.19 369.10,23.93 369.66,24.19 370.21,22.94 370.76,23.19 371.32,22.37 371.87,24.28 372.43,23.79 372.98,23.59 373.53,26.14 374.09,29.16 374.64,29.22 375.19,30.12 375.75,26.01 376.30,30.19 376.86,27.46 377.41,28.84 377.96,27.47 378.52,28.85 379.07,30.79 379.62,31.19 380.18,31.00 380.73,31.09 381.28,32.41 381.84,31.86 382.39,29.54 382.95,34.85 383.50,32.02 384.05,34.00 384.61,32.48 385.16,31.63 385.71,33.17 386.27,32.02 386.82,35.81 387.38,31.73 387.93,34.49 388.48,32.66 389.04,33.42 389.59,37.81 390.14,35.01 390.70,33.54 391.25,31.50 391.80,33.53 392.36,33.62 392.91,36.29 393.47,31.85 394.02,31.29 394.57,34.13 395.13,34.56 395.68,36.80 396.23,32.88 396.79,30.02 397.34,33.20 397.90,32.36 398.45,33.54 399.00,36.00 399.56,32.34 400.11,36.47 400.66,34.87 401.22,34.13 401.77,33.20 402.33,33.99 402.88,34.09 403.43,35.98 403.99,36.89 404.54,34.78 405.09,36.09 405.65,37.13 406.20,37.14 406.75,35.97 407.31,38.26 407.86,37.54 408.42,38.10 408.97,35.24 409.52,34.97 410.08,32.46 410.63,38.26 411.18,37.02 411.74,34.52 412.29,36.46 412.85,36.73 413.40,33.48 413.95,36.92 414.51,38.34 415.06,38.68 415.61,36.03 416.17,36.15 416.72,38.97 417.28,38.39 417.83,35.92 418.38,35.89 418.94,37.94 419.49,35.86 420.04,35.96 420.60,39.86 421.15,37.42 421.70,36.22 422.26,37.86 422.81,40.47 423.37,37.38 423.92,35.65 424.47,34.26 425.03,40.57 425.58,32.53 426.13,38.80 426.69,35.30 427.24,34.83 427.80,35.25 428.35,36.65 428.90,38.86 429.46,35.85 430.01,38.11 430.56,41.17 431.12,32.12 431.67,35.71 432.23,33.82 432.78,38.45 433.33,34.41 433.89,34.20 434.44,34.26 434.99,36.94 435.55,38.96 436.10,37.21 436.65,40.67 437.21,39.82 437.76,36.75 438.32,38.61 438.87,37.19 439.42,37.09 439.98,33.59 440.53,34.67 441.08,36.98 441.64,34.82 442.19,38.25 442.75,37.49 443.30,35.33 443.85,39.06 444.41,37.39 444.96,39.20 445.51,36.70 446.07,34.07 446.62,38.21 447.17,36.51 447.73,38.47 448.28,38.91 448.84,39.06 449.39,34.36 449.94,32.77 450.50,36.06 451.05,38.16 451.60,35.67"/>
<line x1="455.2" y1="29.2" x2="464" y2="19.1" stroke="#6a6a6a" stroke-width="0.9"/>
<line x1="454.1" y1="35.3" x2="465.5" y2="28.9" stroke="#3c9a1e" stroke-width="1.4"/>
<line x1="454.1" y1="39.5" x2="465.5" y2="43.6" stroke="#3e3e3e" stroke-width="1"/>
<line x1="454.4" y1="44.6" x2="464.7" y2="53.5" stroke="#7a9bd8" stroke-width="1.1"/>
<line x1="454.1" y1="62.8" x2="465.5" y2="69.7" stroke="#f0a070" stroke-width="1.1"/>
<line x1="452" y1="84.4" x2="465.9" y2="84.4" stroke="#6f3da8" stroke-width="1.6"/>
<text x="469.20" y="20.06" font-size="8.5" textLength="36.5" lengthAdjust="spacingAndGlyphs" fill="#7a7a7a" stroke="#7a7a7a" stroke-width="0.12">ATL3 1:300</text>
<text x="469.20" y="30.86" font-size="8.5" textLength="45.6" lengthAdjust="spacingAndGlyphs" fill="#000" stroke="#000" stroke-width="0.3">ATL2&#916;C 1:500</text>
<text x="469.20" y="47.26" font-size="8.5" textLength="50.3" lengthAdjust="spacingAndGlyphs" fill="#000" stroke="#000" stroke-width="0.3">ATL2&#916;C 1:1000</text>
<text x="469.20" y="58.56" font-size="8.5" textLength="36.5" lengthAdjust="spacingAndGlyphs" fill="#7a7a7a" stroke="#7a7a7a" stroke-width="0.12">ATL3 1:500</text>
<text x="469.20" y="74.06" font-size="8.5" textLength="40.5" lengthAdjust="spacingAndGlyphs" fill="#7a7a7a" stroke="#7a7a7a" stroke-width="0.12">ATL3 1:1000</text>
<text x="469.20" y="86.36" font-size="8.5" textLength="50.3" lengthAdjust="spacingAndGlyphs" fill="#000" stroke="#000" stroke-width="0.3">ATL2&#916;C 1:2500</text>
<text x="262.00" y="6.65" font-size="9.3" textLength="5.2" lengthAdjust="spacingAndGlyphs" fill="#000" stroke="#000" stroke-width="0.15">B</text>
<line x1="43.4" y1="261.50" x2="191.3" y2="261.50" stroke="#d9d9d9" stroke-width="0.9"/>
<text x="36.00" y="264.26" font-size="8.5" text-anchor="end" textLength="4.11" lengthAdjust="spacingAndGlyphs" fill="#3a3a3a" stroke="#3a3a3a" stroke-width="0.25">0</text>
<line x1="43.4" y1="249.89" x2="191.3" y2="249.89" stroke="#d9d9d9" stroke-width="0.9"/>
<text x="36.00" y="252.65" font-size="8.5" text-anchor="end" textLength="10.28" lengthAdjust="spacingAndGlyphs" fill="#3a3a3a" stroke="#3a3a3a" stroke-width="0.25">0.5</text>
<line x1="43.4" y1="238.28" x2="191.3" y2="238.28" stroke="#d9d9d9" stroke-width="0.9"/>
<text x="36.00" y="241.04" font-size="8.5" text-anchor="end" textLength="4.11" lengthAdjust="spacingAndGlyphs" fill="#3a3a3a" stroke="#3a3a3a" stroke-width="0.25">1</text>
<line x1="43.4" y1="226.67" x2="191.3" y2="226.67" stroke="#d9d9d9" stroke-width="0.9"/>
<text x="36.00" y="229.43" font-size="8.5" text-anchor="end" textLength="10.28" lengthAdjust="spacingAndGlyphs" fill="#3a3a3a" stroke="#3a3a3a" stroke-width="0.25">1.5</text>
<line x1="43.4" y1="215.06" x2="191.3" y2="215.06" stroke="#d9d9d9" stroke-width="0.9"/>
<text x="36.00" y="217.82" font-size="8.5" text-anchor="end" textLength="4.11" lengthAdjust="spacingAndGlyphs" fill="#3a3a3a" stroke="#3a3a3a" stroke-width="0.25">2</text>
<line x1="43.4" y1="203.44" x2="191.3" y2="203.44" stroke="#d9d9d9" stroke-width="0.9"/>
<text x="36.00" y="206.20" font-size="8.5" text-anchor="end" textLength="10.28" lengthAdjust="spacingAndGlyphs" fill="#3a3a3a" stroke="#3a3a3a" stroke-width="0.25">2.5</text>
<line x1="43.4" y1="191.83" x2="191.3" y2="191.83" stroke="#d9d9d9" stroke-width="0.9"/>
<text x="36.00" y="194.59" font-size="8.5" text-anchor="end" textLength="4.11" lengthAdjust="spacingAndGlyphs" fill="#3a3a3a" stroke="#3a3a3a" stroke-width="0.25">3</text>
<line x1="43.4" y1="180.22" x2="191.3" y2="180.22" stroke="#d9d9d9" stroke-width="0.9"/>
<text x="36.00" y="182.98" font-size="8.5" text-anchor="end" textLength="10.28" lengthAdjust="spacingAndGlyphs" fill="#3a3a3a" stroke="#3a3a3a" stroke-width="0.25">3.5</text>
<line x1="43.4" y1="168.61" x2="191.3" y2="168.61" stroke="#d9d9d9" stroke-width="0.9"/>
<text x="36.00" y="171.37" font-size="8.5" text-anchor="end" textLength="4.11" lengthAdjust="spacingAndGlyphs" fill="#3a3a3a" stroke="#3a3a3a" stroke-width="0.25">4</text>
<line x1="43.4" y1="157.00" x2="191.3" y2="157.00" stroke="#d9d9d9" stroke-width="0.9"/>
<text x="36.00" y="159.76" font-size="8.5" text-anchor="end" textLength="10.28" lengthAdjust="spacingAndGlyphs" fill="#3a3a3a" stroke="#3a3a3a" stroke-width="0.25">4.5</text>
<line x1="43.40" y1="157" x2="43.40" y2="261.5" stroke="#d9d9d9" stroke-width="0.9"/>
<text x="43.40" y="275.86" font-size="8.5" text-anchor="middle" textLength="4.11" lengthAdjust="spacingAndGlyphs" fill="#3a3a3a" stroke="#3a3a3a" stroke-width="0.25">0</text>
<line x1="72.98" y1="157" x2="72.98" y2="261.5" stroke="#d9d9d9" stroke-width="0.9"/>
<text x="72.98" y="275.86" font-size="8.5" text-anchor="middle" textLength="4.11" lengthAdjust="spacingAndGlyphs" fill="#3a3a3a" stroke="#3a3a3a" stroke-width="0.25">1</text>
<line x1="102.56" y1="157" x2="102.56" y2="261.5" stroke="#d9d9d9" stroke-width="0.9"/>
<text x="102.56" y="275.86" font-size="8.5" text-anchor="middle" textLength="4.11" lengthAdjust="spacingAndGlyphs" fill="#3a3a3a" stroke="#3a3a3a" stroke-width="0.25">2</text>
<line x1="132.14" y1="157" x2="132.14" y2="261.5" stroke="#d9d9d9" stroke-width="0.9"/>
<text x="132.14" y="275.86" font-size="8.5" text-anchor="middle" textLength="4.11" lengthAdjust="spacingAndGlyphs" fill="#3a3a3a" stroke="#3a3a3a" stroke-width="0.25">3</text>
<line x1="161.72" y1="157" x2="161.72" y2="261.5" stroke="#d9d9d9" stroke-width="0.9"/>
<text x="161.72" y="275.86" font-size="8.5" text-anchor="middle" textLength="4.11" lengthAdjust="spacingAndGlyphs" fill="#3a3a3a" stroke="#3a3a3a" stroke-width="0.25">4</text>
<line x1="191.30" y1="157" x2="191.30" y2="261.5" stroke="#d9d9d9" stroke-width="0.9"/>
<text x="191.30" y="275.86" font-size="8.5" text-anchor="middle" textLength="4.11" lengthAdjust="spacingAndGlyphs" fill="#3a3a3a" stroke="#3a3a3a" stroke-width="0.25">5</text>
<line x1="43" y1="161.5" x2="191.3" y2="161.5" stroke="#000" stroke-width="1" stroke-dasharray="1 1"/>
<polyline fill="none" stroke="#ff0000" stroke-width="1.4" points="43.84,260.46 44.44,259.11 45.03,257.82 45.62,256.56 46.21,255.35 46.80,254.17 47.40,253.04 47.99,251.94 48.58,250.88 49.17,249.85 49.77,248.85 50.36,247.88 50.95,246.94 51.54,246.02 52.13,245.13 52.73,244.27 53.32,243.43 53.91,242.62 54.50,241.83 55.10,241.05 55.69,240.30 56.28,239.57 56.87,238.86 57.46,238.16 58.06,237.48 58.65,236.82 59.24,236.18 59.83,235.55 60.43,234.94 61.02,234.34 61.61,233.75 62.20,233.18 62.79,232.62 63.39,232.07 63.98,231.54 64.57,231.02 65.16,230.51 65.75,230.01 66.35,229.52 66.94,229.04 67.53,228.57 68.12,228.11 68.72,227.66 69.31,227.22 69.90,226.79 70.49,226.37 71.08,225.95 71.68,225.54 72.27,225.15 72.86,224.75 73.45,224.37 74.05,223.99 74.64,223.62 75.23,223.26 75.82,222.90 76.41,222.55 77.01,222.21 77.60,221.87 78.19,221.54 78.78,221.22 79.38,220.90 79.97,220.58 80.56,220.27 81.15,219.97 81.74,219.67 82.34,219.37 82.93,219.08 83.52,218.80 84.11,218.52 84.71,218.24 85.30,217.97 85.89,217.71 86.48,217.44 87.07,217.19 87.67,216.93 88.26,216.68 88.85,216.43 89.44,216.19 90.03,215.95 90.63,215.71 91.22,215.48 91.81,215.25 92.40,215.03 93.00,214.80 93.59,214.59 94.18,214.37 94.77,214.16 95.36,213.95 95.96,213.74 96.55,213.53 97.14,213.33 97.73,213.13 98.33,212.94 98.92,212.74 99.51,212.55 100.10,212.37 100.69,212.18 101.29,212.00 101.88,211.82 102.47,211.64 103.06,211.46 103.66,211.29 104.25,211.11 104.84,210.94 105.43,210.78 106.02,210.61 106.62,210.45 107.21,210.29 107.80,210.13 108.39,209.97 108.99,209.81 109.58,209.66 110.17,209.51 110.76,209.36 111.35,209.21 111.95,209.06 112.54,208.92 113.13,208.77 113.72,208.63 114.31,208.49 114.91,208.35 115.50,208.22 116.09,208.08 116.68,207.95 117.28,207.82 117.87,207.68 118.46,207.55 119.05,207.43 119.64,207.30 120.24,207.17 120.83,207.05 121.42,206.93 122.01,206.81 122.61,206.69 123.20,206.57 123.79,206.45 124.38,206.33 124.97,206.22 125.57,206.11 126.16,205.99 126.75,205.88 127.34,205.77 127.94,205.66 128.53,205.55 129.12,205.45 129.71,205.34 130.30,205.24 130.90,205.13 131.49,205.03 132.08,204.93 132.67,204.83 133.26,204.73 133.86,204.63 134.45,204.53 135.04,204.43 135.63,204.34 136.23,204.24 136.82,204.15 137.41,204.05 138.00,203.96 138.59,203.87 139.19,203.78 139.78,203.69 140.37,203.60 140.96,203.51 141.56,203.42 142.15,203.34 142.74,203.25 143.33,203.16 143.92,203.08 144.52,203.00 145.11,202.91 145.70,202.83 146.29,202.75 146.89,202.67 147.48,202.59 148.07,202.51 148.66,202.43 149.25,202.35 149.85,202.27 150.44,202.20 151.03,202.12 151.62,202.05 152.22,201.97 152.81,201.90 153.40,201.82 153.99,201.75 154.58,201.68 155.18,201.61 155.77,201.53 156.36,201.46 156.95,201.39 157.54,201.32 158.14,201.25 158.73,201.19 159.32,201.12 159.91,201.05 160.51,200.98 161.10,200.92 161.69,200.85 162.28,200.79 162.87,200.72 163.47,200.66 164.06,200.59 164.65,200.53 165.24,200.47 165.84,200.41 166.43,200.34 167.02,200.28 167.61,200.22 168.20,200.16 168.80,200.10 169.39,200.04 169.98,199.98 170.57,199.92 171.17,199.87 171.76,199.81 172.35,199.75 172.94,199.69 173.53,199.64 174.13,199.58 174.72,199.53 175.31,199.47 175.90,199.42 176.50,199.36 177.09,199.31 177.68,199.25 178.27,199.20 178.86,199.15 179.46,199.09 180.05,199.04 180.64,198.99 181.23,198.94 181.82,198.89 182.42,198.84 183.01,198.79 183.60,198.74 184.19,198.69 184.79,198.64 185.38,198.59 185.97,198.54 186.56,198.49 187.15,198.44 187.75,198.39 188.34,198.35 188.93,198.30 189.52,198.25 190.12,198.21 190.71,198.16 191.30,198.11"/>
<path d="M45.90 245.48H48.30M47.10 245.48V252.44M45.90 252.44H48.30" stroke="#555" stroke-width="0.7" fill="none"/>
<circle cx="47.10" cy="248.96" r="1.6" fill="#0b3bb0"/>
<circle cx="50.80" cy="242.46" r="1.6" fill="#0b3bb0"/>
<path d="M56.99 236.88H59.39M58.19 236.88V239.21M56.99 239.21H59.39" stroke="#555" stroke-width="0.7" fill="none"/>
<circle cx="58.19" cy="238.05" r="1.6" fill="#0b3bb0"/>
<circle cx="72.98" cy="227.60" r="1.6" fill="#0b3bb0"/>
<path d="M101.36 208.79H103.76M102.56 208.79V215.75M101.36 215.75H103.76" stroke="#555" stroke-width="0.7" fill="none"/>
<circle cx="102.56" cy="212.27" r="1.6" fill="#0b3bb0"/>
<circle cx="161.72" cy="199.26" r="1.6" fill="#0b3bb0"/>
<text x="63.3" y="189.00" font-size="8.5" fill="#222" stroke="#222" stroke-width="0.25">K<tspan font-size="4.6" dy="1.4">D</tspan></text>
<text x="73.70" y="189.36" font-size="8.5" textLength="31.7" lengthAdjust="spacingAndGlyphs" fill="#222" stroke="#222" stroke-width="0.25">~ 2.1 &#181;M;</text>
<text x="112" y="189.00" font-size="8.5" fill="#222" stroke="#222" stroke-width="0.25">k<tspan font-size="4.6" dy="1.4">obs</tspan></text>
<text x="123.00" y="189.36" font-size="8.5" textLength="46.5" lengthAdjust="spacingAndGlyphs" fill="#222" stroke="#222" stroke-width="0.25">~4.3 &#181;M/min</text>
<circle cx="203.00" cy="205.80" r="1.6" fill="#0b3bb0"/>
<text x="212.10" y="208.35" font-size="8.5" textLength="30.3" lengthAdjust="spacingAndGlyphs" fill="#222" stroke="#222" stroke-width="0.25">observed</text>
<line x1="195" y1="219.50" x2="210.80" y2="219.50" stroke="#ff0000" stroke-width="1.3"/>
<text x="212.10" y="222.05" font-size="8.5" textLength="6.5" lengthAdjust="spacingAndGlyphs" fill="#222" stroke="#222" stroke-width="0.25">fit</text>
<line x1="195" y1="233.5" x2="211" y2="233.5" stroke="#000" stroke-width="1" stroke-dasharray="1 1"/>
<text x="212.10" y="235.65" font-size="8.5" textLength="40.8" lengthAdjust="spacingAndGlyphs" fill="#222" stroke="#222" stroke-width="0.25">max from fit</text>
<text x="96.50" y="294.36" font-size="8.5" textLength="47.7" lengthAdjust="spacingAndGlyphs" fill="#222" stroke="#222" stroke-width="0.25">[cyt ATL3], &#181;M</text>
<text x="4.30" y="201.56" font-size="8.5" text-anchor="middle" textLength="73" lengthAdjust="spacingAndGlyphs" transform="rotate(-90 4.30 198.50)" fill="#222" stroke="#222" stroke-width="0.25">Steady state GTPase,</text>
<text x="16.3" y="198.5" font-size="8.5" text-anchor="middle" fill="#222" stroke="#222" stroke-width="0.25" textLength="31" lengthAdjust="spacingAndGlyphs" transform="rotate(-90 16.3 198.5)">(k<tspan font-size="5" dy="1.2">obs</tspan><tspan dy="-1.2">, min</tspan><tspan font-size="5" dy="-2.6">-1</tspan><tspan dy="2.6">)</tspan></text>
<text x="-0.50" y="157.35" font-size="9.3" textLength="5.6" lengthAdjust="spacingAndGlyphs" fill="#000" stroke="#000" stroke-width="0.15">C</text>
<line x1="312" y1="266.60" x2="458.7" y2="266.60" stroke="#d9d9d9" stroke-width="0.9"/>
<text x="305.30" y="269.36" font-size="8.5" text-anchor="end" textLength="4.11" lengthAdjust="spacingAndGlyphs" fill="#3a3a3a" stroke="#3a3a3a" stroke-width="0.25">0</text>
<line x1="312" y1="253.28" x2="458.7" y2="253.28" stroke="#d9d9d9" stroke-width="0.9"/>
<text x="305.30" y="256.04" font-size="8.5" text-anchor="end" textLength="10.28" lengthAdjust="spacingAndGlyphs" fill="#3a3a3a" stroke="#3a3a3a" stroke-width="0.25">0.5</text>
<line x1="312" y1="239.95" x2="458.7" y2="239.95" stroke="#d9d9d9" stroke-width="0.9"/>
<text x="305.30" y="242.71" font-size="8.5" text-anchor="end" textLength="4.11" lengthAdjust="spacingAndGlyphs" fill="#3a3a3a" stroke="#3a3a3a" stroke-width="0.25">1</text>
<line x1="312" y1="226.62" x2="458.7" y2="226.62" stroke="#d9d9d9" stroke-width="0.9"/>
<text x="305.30" y="229.38" font-size="8.5" text-anchor="end" textLength="10.28" lengthAdjust="spacingAndGlyphs" fill="#3a3a3a" stroke="#3a3a3a" stroke-width="0.25">1.5</text>
<line x1="312" y1="213.30" x2="458.7" y2="213.30" stroke="#d9d9d9" stroke-width="0.9"/>
<text x="305.30" y="216.06" font-size="8.5" text-anchor="end" textLength="4.11" lengthAdjust="spacingAndGlyphs" fill="#3a3a3a" stroke="#3a3a3a" stroke-width="0.25">2</text>
<line x1="312" y1="199.98" x2="458.7" y2="199.98" stroke="#d9d9d9" stroke-width="0.9"/>
<text x="305.30" y="202.74" font-size="8.5" text-anchor="end" textLength="10.28" lengthAdjust="spacingAndGlyphs" fill="#3a3a3a" stroke="#3a3a3a" stroke-width="0.25">2.5</text>
<line x1="312" y1="186.65" x2="458.7" y2="186.65" stroke="#d9d9d9" stroke-width="0.9"/>
<text x="305.30" y="189.41" font-size="8.5" text-anchor="end" textLength="4.11" lengthAdjust="spacingAndGlyphs" fill="#3a3a3a" stroke="#3a3a3a" stroke-width="0.25">3</text>
<line x1="312" y1="173.32" x2="458.7" y2="173.32" stroke="#d9d9d9" stroke-width="0.9"/>
<text x="305.30" y="176.08" font-size="8.5" text-anchor="end" textLength="10.28" lengthAdjust="spacingAndGlyphs" fill="#3a3a3a" stroke="#3a3a3a" stroke-width="0.25">3.5</text>
<line x1="312" y1="160.00" x2="458.7" y2="160.00" stroke="#d9d9d9" stroke-width="0.9"/>
<text x="305.30" y="162.76" font-size="8.5" text-anchor="end" textLength="4.11" lengthAdjust="spacingAndGlyphs" fill="#3a3a3a" stroke="#3a3a3a" stroke-width="0.25">4</text>
<line x1="312.00" y1="160" x2="312.00" y2="266.6" stroke="#d9d9d9" stroke-width="0.9"/>
<text x="312.00" y="280.56" font-size="8.5" text-anchor="middle" textLength="4.11" lengthAdjust="spacingAndGlyphs" fill="#3a3a3a" stroke="#3a3a3a" stroke-width="0.25">0</text>
<line x1="341.34" y1="160" x2="341.34" y2="266.6" stroke="#d9d9d9" stroke-width="0.9"/>
<text x="341.34" y="280.56" font-size="8.5" text-anchor="middle" textLength="4.11" lengthAdjust="spacingAndGlyphs" fill="#3a3a3a" stroke="#3a3a3a" stroke-width="0.25">1</text>
<line x1="370.68" y1="160" x2="370.68" y2="266.6" stroke="#d9d9d9" stroke-width="0.9"/>
<text x="370.68" y="280.56" font-size="8.5" text-anchor="middle" textLength="4.11" lengthAdjust="spacingAndGlyphs" fill="#3a3a3a" stroke="#3a3a3a" stroke-width="0.25">2</text>
<line x1="400.02" y1="160" x2="400.02" y2="266.6" stroke="#d9d9d9" stroke-width="0.9"/>
<text x="400.02" y="280.56" font-size="8.5" text-anchor="middle" textLength="4.11" lengthAdjust="spacingAndGlyphs" fill="#3a3a3a" stroke="#3a3a3a" stroke-width="0.25">3</text>
<line x1="429.36" y1="160" x2="429.36" y2="266.6" stroke="#d9d9d9" stroke-width="0.9"/>
<text x="429.36" y="280.56" font-size="8.5" text-anchor="middle" textLength="4.11" lengthAdjust="spacingAndGlyphs" fill="#3a3a3a" stroke="#3a3a3a" stroke-width="0.25">4</text>
<line x1="458.70" y1="160" x2="458.70" y2="266.6" stroke="#d9d9d9" stroke-width="0.9"/>
<text x="458.70" y="280.56" font-size="8.5" text-anchor="middle" textLength="4.11" lengthAdjust="spacingAndGlyphs" fill="#3a3a3a" stroke="#3a3a3a" stroke-width="0.25">5</text>
<line x1="312" y1="176.5" x2="458.7" y2="176.5" stroke="#000" stroke-width="1" stroke-dasharray="1 1"/>
<polyline fill="none" stroke="#ff0000" stroke-width="1.4" points="312.44,264.79 313.03,262.51 313.61,260.37 314.20,258.36 314.79,256.47 315.38,254.68 315.96,252.98 316.55,251.38 317.14,249.86 317.73,248.42 318.31,247.04 318.90,245.74 319.49,244.49 320.08,243.30 320.66,242.16 321.25,241.08 321.84,240.04 322.43,239.04 323.01,238.09 323.60,237.17 324.19,236.29 324.78,235.44 325.36,234.63 325.95,233.85 326.54,233.09 327.12,232.36 327.71,231.66 328.30,230.98 328.89,230.33 329.47,229.69 330.06,229.08 330.65,228.49 331.24,227.91 331.82,227.36 332.41,226.82 333.00,226.30 333.59,225.79 334.17,225.30 334.76,224.82 335.35,224.36 335.94,223.91 336.52,223.47 337.11,223.05 337.70,222.63 338.29,222.23 338.87,221.84 339.46,221.45 340.05,221.08 340.63,220.72 341.22,220.37 341.81,220.02 342.40,219.68 342.98,219.36 343.57,219.03 344.16,218.72 344.75,218.42 345.33,218.12 345.92,217.83 346.51,217.54 347.10,217.26 347.68,216.99 348.27,216.72 348.86,216.46 349.45,216.20 350.03,215.95 350.62,215.71 351.21,215.47 351.80,215.24 352.38,215.00 352.97,214.78 353.56,214.56 354.14,214.34 354.73,214.13 355.32,213.92 355.91,213.72 356.49,213.52 357.08,213.32 357.67,213.13 358.26,212.94 358.84,212.75 359.43,212.57 360.02,212.39 360.61,212.21 361.19,212.04 361.78,211.87 362.37,211.70 362.96,211.54 363.54,211.37 364.13,211.22 364.72,211.06 365.31,210.91 365.89,210.75 366.48,210.61 367.07,210.46 367.65,210.32 368.24,210.17 368.83,210.04 369.42,209.90 370.00,209.76 370.59,209.63 371.18,209.50 371.77,209.37 372.35,209.24 372.94,209.12 373.53,208.99 374.12,208.87 374.70,208.75 375.29,208.64 375.88,208.52 376.47,208.40 377.05,208.29 377.64,208.18 378.23,208.07 378.82,207.96 379.40,207.86 379.99,207.75 380.58,207.65 381.16,207.54 381.75,207.44 382.34,207.34 382.93,207.24 383.51,207.15 384.10,207.05 384.69,206.96 385.28,206.86 385.86,206.77 386.45,206.68 387.04,206.59 387.63,206.50 388.21,206.41 388.80,206.33 389.39,206.24 389.98,206.16 390.56,206.08 391.15,205.99 391.74,205.91 392.33,205.83 392.91,205.75 393.50,205.67 394.09,205.60 394.67,205.52 395.26,205.44 395.85,205.37 396.44,205.29 397.02,205.22 397.61,205.15 398.20,205.08 398.79,205.01 399.37,204.94 399.96,204.87 400.55,204.80 401.14,204.73 401.72,204.66 402.31,204.60 402.90,204.53 403.49,204.47 404.07,204.40 404.66,204.34 405.25,204.28 405.83,204.22 406.42,204.16 407.01,204.09 407.60,204.03 408.18,203.97 408.77,203.92 409.36,203.86 409.95,203.80 410.53,203.74 411.12,203.69 411.71,203.63 412.30,203.58 412.88,203.52 413.47,203.47 414.06,203.41 414.65,203.36 415.23,203.31 415.82,203.25 416.41,203.20 417.00,203.15 417.58,203.10 418.17,203.05 418.76,203.00 419.34,202.95 419.93,202.90 420.52,202.85 421.11,202.81 421.69,202.76 422.28,202.71 422.87,202.66 423.46,202.62 424.04,202.57 424.63,202.53 425.22,202.48 425.81,202.44 426.39,202.39 426.98,202.35 427.57,202.31 428.16,202.26 428.74,202.22 429.33,202.18 429.92,202.14 430.51,202.10 431.09,202.05 431.68,202.01 432.27,201.97 432.85,201.93 433.44,201.89 434.03,201.85 434.62,201.81 435.20,201.78 435.79,201.74 436.38,201.70 436.97,201.66 437.55,201.62 438.14,201.59 438.73,201.55 439.32,201.51 439.90,201.48 440.49,201.44 441.08,201.40 441.67,201.37 442.25,201.33 442.84,201.30 443.43,201.26 444.02,201.23 444.60,201.20 445.19,201.16 445.78,201.13 446.36,201.10 446.95,201.06 447.54,201.03 448.13,201.00 448.71,200.96 449.30,200.93 449.89,200.90 450.48,200.87 451.06,200.84 451.65,200.81 452.24,200.78 452.83,200.75 453.41,200.71 454.00,200.68 454.59,200.65 455.18,200.62 455.76,200.60 456.35,200.57 456.94,200.54 457.53,200.51 458.11,200.48 458.70,200.45"/>
<path d="M314.47 245.55H316.87M315.67 245.55V257.27M314.47 257.27H316.87" stroke="#555" stroke-width="0.7" fill="none"/>
<circle cx="315.67" cy="251.41" r="1.6" fill="#0b3bb0"/>
<path d="M318.13 237.55H320.53M319.33 237.55V244.48M318.13 244.48H320.53" stroke="#555" stroke-width="0.7" fill="none"/>
<circle cx="319.33" cy="241.02" r="1.6" fill="#0b3bb0"/>
<path d="M325.47 227.16H327.87M326.67 227.16V235.69M325.47 235.69H327.87" stroke="#555" stroke-width="0.7" fill="none"/>
<circle cx="326.67" cy="231.42" r="1.6" fill="#0b3bb0"/>
<circle cx="341.34" cy="219.16" r="1.6" fill="#0b3bb0"/>
<circle cx="370.68" cy="210.90" r="1.6" fill="#0b3bb0"/>
<text x="338.1" y="193.20" font-size="8.5" fill="#222" stroke="#222" stroke-width="0.25">K<tspan font-size="4.6" dy="1.4">D</tspan></text>
<text x="348.50" y="193.56" font-size="8.5" textLength="30" lengthAdjust="spacingAndGlyphs" fill="#222" stroke="#222" stroke-width="0.25">~ 0.9 &#181;M;</text>
<text x="387.7" y="193.20" font-size="8.5" fill="#222" stroke="#222" stroke-width="0.25">k<tspan font-size="4.6" dy="1.4">obs</tspan></text>
<text x="398.70" y="193.56" font-size="8.5" textLength="45.8" lengthAdjust="spacingAndGlyphs" fill="#222" stroke="#222" stroke-width="0.25">~3.4 &#181;M/min</text>
<circle cx="471.00" cy="207.00" r="1.6" fill="#0b3bb0"/>
<text x="480.10" y="209.55" font-size="8.5" textLength="30.3" lengthAdjust="spacingAndGlyphs" fill="#222" stroke="#222" stroke-width="0.25">observed</text>
<line x1="463" y1="220.70" x2="478.80" y2="220.70" stroke="#ff0000" stroke-width="1.3"/>
<text x="480.10" y="223.25" font-size="8.5" textLength="6.5" lengthAdjust="spacingAndGlyphs" fill="#222" stroke="#222" stroke-width="0.25">fit</text>
<line x1="463" y1="234.5" x2="479" y2="234.5" stroke="#000" stroke-width="1" stroke-dasharray="1 1"/>
<text x="480.10" y="236.85" font-size="8.5" textLength="40.8" lengthAdjust="spacingAndGlyphs" fill="#222" stroke="#222" stroke-width="0.25">max from fit</text>
<text x="364.40" y="295.76" font-size="8.5" textLength="48.3" lengthAdjust="spacingAndGlyphs" fill="#222" stroke="#222" stroke-width="0.25">[cyt ATL2], &#181;M</text>
<text x="273.00" y="205.06" font-size="8.5" text-anchor="middle" textLength="73" lengthAdjust="spacingAndGlyphs" transform="rotate(-90 273.00 202.00)" fill="#222" stroke="#222" stroke-width="0.25">Steady state GTPase,</text>
<text x="286" y="202" font-size="8.5" text-anchor="middle" fill="#222" stroke="#222" stroke-width="0.25" textLength="31" lengthAdjust="spacingAndGlyphs" transform="rotate(-90 286 202)">(k<tspan font-size="5" dy="1.2">obs</tspan><tspan dy="-1.2">, min</tspan><tspan font-size="5" dy="-2.6">-1</tspan><tspan dy="2.6">)</tspan></text>
<text x="262.20" y="157.55" font-size="9.3" textLength="5.6" lengthAdjust="spacingAndGlyphs" fill="#000" stroke="#000" stroke-width="0.15">D</text>
<text x="0.30" y="318.75" font-size="9.3" textLength="4.2" lengthAdjust="spacingAndGlyphs" fill="#000" stroke="#000" stroke-width="0.15">E</text>
<text x="79.00" y="318.86" font-size="8.5" textLength="51" lengthAdjust="spacingAndGlyphs" fill="#1a1a1a" stroke="#1a1a1a" stroke-width="0.25">Total cell lysate</text>
<line x1="37.6" y1="323" x2="165" y2="323" stroke="#333" stroke-width="1.1"/>
<text x="43.00" y="336.06" font-size="8.5" text-anchor="middle" textLength="12.1" lengthAdjust="spacingAndGlyphs" fill="#1a1a1a" stroke="#1a1a1a" stroke-width="0.25">3T3</text>
<text x="74.80" y="336.06" font-size="8.5" text-anchor="middle" textLength="17.6" lengthAdjust="spacingAndGlyphs" fill="#1a1a1a" stroke="#1a1a1a" stroke-width="0.25">COS7</text>
<text x="104.40" y="336.06" font-size="8.5" text-anchor="middle" textLength="16.6" lengthAdjust="spacingAndGlyphs" fill="#1a1a1a" stroke="#1a1a1a" stroke-width="0.25">HeLa</text>
<text x="131.70" y="336.06" font-size="8.5" text-anchor="middle" textLength="13" lengthAdjust="spacingAndGlyphs" fill="#1a1a1a" stroke="#1a1a1a" stroke-width="0.25">HEK</text>
<text x="160.00" y="336.06" font-size="8.5" text-anchor="middle" textLength="19" lengthAdjust="spacingAndGlyphs" fill="#1a1a1a" stroke="#1a1a1a" stroke-width="0.25">U2OS</text>
<text x="222.60" y="319.06" font-size="8.5" textLength="55.4" lengthAdjust="spacingAndGlyphs" fill="#1a1a1a" stroke="#1a1a1a" stroke-width="0.25">HA-HIS_ATL3, ng</text>
<line x1="189.7" y1="323" x2="305.7" y2="323" stroke="#333" stroke-width="1.1"/>
<text x="192.50" y="334.06" font-size="8.5" text-anchor="middle" textLength="4.11" lengthAdjust="spacingAndGlyphs" fill="#1a1a1a" stroke="#1a1a1a" stroke-width="0.25">5</text>
<text x="218.50" y="334.06" font-size="8.5" text-anchor="middle" textLength="8.23" lengthAdjust="spacingAndGlyphs" fill="#1a1a1a" stroke="#1a1a1a" stroke-width="0.25">10</text>
<text x="245.50" y="334.06" font-size="8.5" text-anchor="middle" textLength="8.23" lengthAdjust="spacingAndGlyphs" fill="#1a1a1a" stroke="#1a1a1a" stroke-width="0.25">20</text>
<text x="270.40" y="334.06" font-size="8.5" text-anchor="middle" textLength="8.23" lengthAdjust="spacingAndGlyphs" fill="#1a1a1a" stroke="#1a1a1a" stroke-width="0.25">40</text>
<text x="300.80" y="334.06" font-size="8.5" text-anchor="middle" textLength="8.23" lengthAdjust="spacingAndGlyphs" fill="#1a1a1a" stroke="#1a1a1a" stroke-width="0.25">80</text>
<text x="6.50" y="345.66" font-size="8.5" textLength="9.2" lengthAdjust="spacingAndGlyphs" fill="#1a1a1a" stroke="#1a1a1a" stroke-width="0.25">kD</text>
<text x="7.00" y="361.06" font-size="8.5" textLength="8.23" lengthAdjust="spacingAndGlyphs" fill="#1a1a1a" stroke="#1a1a1a" stroke-width="0.25">55</text>
<line x1="17" y1="358" x2="21" y2="358" stroke="#111" stroke-width="0.9"/>
<line x1="320" y1="362" x2="324" y2="362" stroke="#111" stroke-width="0.9"/>
<text x="326.00" y="365.06" font-size="8.5" textLength="16" lengthAdjust="spacingAndGlyphs" fill="#1a1a1a" stroke="#1a1a1a" stroke-width="0.25">ATL3</text>
<rect x="22.5" y="339.6" width="295.8" height="39.8" fill="#ebebeb"/>
<g filter="url(#bl)">
<path d="M28.50 355.00 L29.00 354.73 L29.50 354.47 L30.00 354.20 L30.50 354.27 L31.00 354.33 L31.50 354.40 L32.00 354.47 L32.50 354.53 L33.00 354.60 L33.50 354.67 L34.00 354.73 L34.50 354.80 L35.00 354.87 L35.50 354.93 L36.00 355.00 L36.50 355.08 L37.00 355.17 L37.50 355.25 L38.00 355.33 L38.50 355.42 L39.00 355.50 L39.50 355.58 L40.00 355.67 L40.50 355.75 L41.00 355.83 L41.50 355.92 L42.00 356.00 L42.50 356.08 L43.00 356.17 L43.50 356.25 L44.00 356.33 L44.50 356.42 L45.00 356.50 L45.50 356.56 L46.00 356.62 L46.50 356.68 L47.00 356.74 L47.50 356.80 L48.00 356.86 L48.50 356.92 L49.00 356.98 L49.50 357.04 L50.00 357.10 L50.50 357.16 L51.00 357.22 L51.50 357.28 L52.00 357.34 L52.50 357.40 L53.00 357.46 L53.50 357.52 L54.00 357.58 L54.50 357.64 L55.00 357.70 L55.50 357.77 L56.00 357.83 L56.50 357.90 L57.00 357.97 L57.50 358.03 L58.00 358.10 L58.50 358.17 L59.00 358.23 L59.50 358.30 L60.00 358.37 L60.50 358.43 L61.00 358.50 L61.50 358.48 L62.00 358.45 L62.50 358.43 L63.00 358.40 L63.50 358.36 L64.00 358.31 L64.50 358.27 L65.00 358.23 L65.50 358.19 L66.00 358.14 L66.50 358.10 L67.00 358.06 L67.50 358.01 L68.00 357.97 L68.50 357.93 L69.00 357.89 L69.50 357.84 L70.00 357.80 L70.50 357.81 L71.00 357.83 L71.50 357.84 L72.00 357.85 L72.50 357.87 L73.00 357.88 L73.50 357.89 L74.00 357.91 L74.50 357.92 L75.00 357.93 L75.50 357.95 L76.00 357.96 L76.50 357.97 L77.00 357.99 L77.50 358.00 L78.00 358.01 L78.50 358.03 L79.00 358.04 L79.50 358.05 L80.00 358.07 L80.50 358.08 L81.00 358.09 L81.50 358.11 L82.00 358.12 L82.50 358.13 L83.00 358.15 L83.50 358.16 L84.00 358.17 L84.50 358.19 L85.00 358.20 L85.50 358.26 L86.00 358.32 L86.50 358.38 L87.00 358.43 L87.50 358.49 L88.00 358.55 L88.50 358.61 L89.00 358.67 L89.50 358.73 L90.00 358.78 L90.50 358.84 L91.00 358.90 L91.50 359.55 L92.00 360.20 L92.00 361.80 L91.50 361.95 L91.00 362.10 L90.50 362.11 L90.00 362.12 L89.50 362.12 L89.00 362.13 L88.50 362.14 L88.00 362.15 L87.50 362.16 L87.00 362.17 L86.50 362.17 L86.00 362.18 L85.50 362.19 L85.00 362.20 L84.50 362.19 L84.00 362.17 L83.50 362.16 L83.00 362.15 L82.50 362.13 L82.00 362.12 L81.50 362.11 L81.00 362.09 L80.50 362.08 L80.00 362.07 L79.50 362.05 L79.00 362.04 L78.50 362.03 L78.00 362.01 L77.50 362.00 L77.00 361.99 L76.50 361.97 L76.00 361.96 L75.50 361.95 L75.00 361.93 L74.50 361.92 L74.00 361.91 L73.50 361.89 L73.00 361.88 L72.50 361.87 L72.00 361.85 L71.50 361.84 L71.00 361.83 L70.50 361.81 L70.00 361.80 L69.50 361.79 L69.00 361.77 L68.50 361.76 L68.00 361.74 L67.50 361.73 L67.00 361.71 L66.50 361.70 L66.00 361.69 L65.50 361.67 L65.00 361.66 L64.50 361.64 L64.00 361.63 L63.50 361.61 L63.00 361.60 L62.50 361.57 L62.00 361.55 L61.50 361.52 L61.00 361.50 L60.50 361.48 L60.00 361.47 L59.50 361.45 L59.00 361.43 L58.50 361.42 L58.00 361.40 L57.50 361.38 L57.00 361.37 L56.50 361.35 L56.00 361.33 L55.50 361.32 L55.00 361.30 L54.50 361.24 L54.00 361.18 L53.50 361.12 L53.00 361.06 L52.50 361.00 L52.00 360.94 L51.50 360.88 L51.00 360.82 L50.50 360.76 L50.00 360.70 L49.50 360.64 L49.00 360.58 L48.50 360.52 L48.00 360.46 L47.50 360.40 L47.00 360.34 L46.50 360.28 L46.00 360.22 L45.50 360.16 L45.00 360.10 L44.50 360.04 L44.00 359.98 L43.50 359.92 L43.00 359.86 L42.50 359.79 L42.00 359.73 L41.50 359.67 L41.00 359.61 L40.50 359.55 L40.00 359.49 L39.50 359.43 L39.00 359.37 L38.50 359.31 L38.00 359.24 L37.50 359.18 L37.00 359.12 L36.50 359.06 L36.00 359.00 L35.50 358.93 L35.00 358.87 L34.50 358.80 L34.00 358.73 L33.50 358.67 L33.00 358.60 L32.50 358.53 L32.00 358.47 L31.50 358.40 L31.00 358.33 L30.50 358.27 L30.00 358.20 L29.50 357.93 L29.00 357.67 L28.50 357.40Z" fill="#080808"/>
<path d="M92.50 360.50 L93.00 360.18 L93.50 359.86 L94.00 359.54 L94.50 359.22 L95.00 358.90 L95.50 358.91 L96.00 358.92 L96.50 358.93 L97.00 358.95 L97.50 358.96 L98.00 358.97 L98.50 358.98 L99.00 358.99 L99.50 359.00 L100.00 359.02 L100.50 359.03 L101.00 359.04 L101.50 359.05 L102.00 359.06 L102.50 359.07 L103.00 359.08 L103.50 359.10 L104.00 359.11 L104.50 359.12 L105.00 359.13 L105.50 359.14 L106.00 359.15 L106.50 359.17 L107.00 359.18 L107.50 359.19 L108.00 359.20 L108.50 359.23 L109.00 359.27 L109.50 359.30 L110.00 359.33 L110.50 359.37 L111.00 359.40 L111.50 359.43 L112.00 359.47 L112.50 359.50 L113.00 359.53 L113.50 359.57 L114.00 359.60 L114.50 359.63 L115.00 359.67 L115.50 359.70 L116.00 359.73 L116.50 359.77 L117.00 359.80 L117.50 360.05 L118.00 360.30 L118.50 360.55 L119.00 360.80 L119.50 361.05 L120.00 361.30 L120.00 363.30 L119.50 363.52 L119.00 363.73 L118.50 363.95 L118.00 364.17 L117.50 364.38 L117.00 364.60 L116.50 364.59 L116.00 364.58 L115.50 364.57 L115.00 364.56 L114.50 364.54 L114.00 364.53 L113.50 364.52 L113.00 364.51 L112.50 364.50 L112.00 364.49 L111.50 364.48 L111.00 364.47 L110.50 364.46 L110.00 364.44 L109.50 364.43 L109.00 364.42 L108.50 364.41 L108.00 364.40 L107.50 364.37 L107.00 364.35 L106.50 364.32 L106.00 364.29 L105.50 364.27 L105.00 364.24 L104.50 364.21 L104.00 364.18 L103.50 364.16 L103.00 364.13 L102.50 364.10 L102.00 364.08 L101.50 364.05 L101.00 364.02 L100.50 364.00 L100.00 363.97 L99.50 363.94 L99.00 363.92 L98.50 363.89 L98.00 363.86 L97.50 363.83 L97.00 363.81 L96.50 363.78 L96.00 363.75 L95.50 363.73 L95.00 363.70 L94.50 363.46 L94.00 363.22 L93.50 362.98 L93.00 362.74 L92.50 362.50Z" fill="#2a2a2a"/>
<line x1="122.30" y1="362.00" x2="142.70" y2="362.00" stroke="#d2d2d2" stroke-width="2.6" stroke-linecap="round" opacity="1.0"/>
<path d="M147.00 360.60 L147.50 360.35 L148.00 360.10 L148.50 359.85 L149.00 359.60 L149.50 359.35 L150.00 359.10 L150.50 359.08 L151.00 359.07 L151.50 359.05 L152.00 359.03 L152.50 359.02 L153.00 359.00 L153.50 358.98 L154.00 358.97 L154.50 358.95 L155.00 358.93 L155.50 358.92 L156.00 358.90 L156.50 358.88 L157.00 358.87 L157.50 358.85 L158.00 358.83 L158.50 358.82 L159.00 358.80 L159.50 358.78 L160.00 358.77 L160.50 358.75 L161.00 358.73 L161.50 358.72 L162.00 358.70 L162.50 358.68 L163.00 358.67 L163.50 358.65 L164.00 358.63 L164.50 358.62 L165.00 358.60 L165.50 358.61 L166.00 358.62 L166.50 358.63 L167.00 358.64 L167.50 358.65 L168.00 358.65 L168.50 358.66 L169.00 358.67 L169.50 358.68 L170.00 358.69 L170.50 358.70 L171.00 358.71 L171.50 358.72 L172.00 358.73 L172.50 358.74 L173.00 358.75 L173.50 358.75 L174.00 358.76 L174.50 358.77 L175.00 358.78 L175.50 358.79 L176.00 358.80 L176.50 359.03 L177.00 359.27 L177.50 359.50 L178.00 359.73 L178.50 359.97 L179.00 360.20 L179.00 362.20 L178.50 362.37 L178.00 362.53 L177.50 362.70 L177.00 362.87 L176.50 363.03 L176.00 363.20 L175.50 363.21 L175.00 363.22 L174.50 363.23 L174.00 363.24 L173.50 363.25 L173.00 363.25 L172.50 363.26 L172.00 363.27 L171.50 363.28 L171.00 363.29 L170.50 363.30 L170.00 363.31 L169.50 363.32 L169.00 363.33 L168.50 363.34 L168.00 363.35 L167.50 363.35 L167.00 363.36 L166.50 363.37 L166.00 363.38 L165.50 363.39 L165.00 363.40 L164.50 363.40 L164.00 363.41 L163.50 363.41 L163.00 363.41 L162.50 363.42 L162.00 363.42 L161.50 363.42 L161.00 363.43 L160.50 363.43 L160.00 363.43 L159.50 363.44 L159.00 363.44 L158.50 363.44 L158.00 363.45 L157.50 363.45 L157.00 363.45 L156.50 363.46 L156.00 363.46 L155.50 363.46 L155.00 363.47 L154.50 363.47 L154.00 363.47 L153.50 363.48 L153.00 363.48 L152.50 363.48 L152.00 363.49 L151.50 363.49 L151.00 363.49 L150.50 363.50 L150.00 363.50 L149.50 363.35 L149.00 363.20 L148.50 363.05 L148.00 362.90 L147.50 362.75 L147.00 362.60Z" fill="#333"/>
<circle cx="176.5" cy="361.2" r="0.9" fill="#ddd"/>
<line x1="184.40" y1="358.40" x2="201.70" y2="358.40" stroke="#bdbdbd" stroke-width="2.4" stroke-linecap="round" opacity="1.0"/>
<path d="M208.00 357.60 L208.50 357.45 L209.00 357.30 L209.50 357.15 L210.00 357.00 L210.50 356.85 L211.00 356.70 L211.50 356.70 L212.00 356.70 L212.50 356.70 L213.00 356.70 L213.50 356.70 L214.00 356.70 L214.50 356.70 L215.00 356.70 L215.50 356.70 L216.00 356.70 L216.50 356.70 L217.00 356.70 L217.50 356.70 L218.00 356.70 L218.50 356.70 L219.00 356.70 L219.50 356.70 L220.00 356.70 L220.50 356.70 L221.00 356.70 L221.50 356.70 L222.00 356.70 L222.50 356.70 L223.00 356.70 L223.50 356.70 L224.00 356.70 L224.50 356.70 L225.00 356.70 L225.50 356.84 L226.00 356.99 L226.50 357.13 L227.00 357.27 L227.50 357.41 L228.00 357.56 L228.50 357.70 L228.50 359.30 L228.00 359.39 L227.50 359.47 L227.00 359.56 L226.50 359.64 L226.00 359.73 L225.50 359.81 L225.00 359.90 L224.50 359.90 L224.00 359.90 L223.50 359.90 L223.00 359.90 L222.50 359.90 L222.00 359.90 L221.50 359.90 L221.00 359.90 L220.50 359.90 L220.00 359.90 L219.50 359.90 L219.00 359.90 L218.50 359.90 L218.00 359.90 L217.50 359.90 L217.00 359.90 L216.50 359.90 L216.00 359.90 L215.50 359.90 L215.00 359.90 L214.50 359.90 L214.00 359.90 L213.50 359.90 L213.00 359.90 L212.50 359.90 L212.00 359.90 L211.50 359.90 L211.00 359.90 L210.50 359.78 L210.00 359.67 L209.50 359.55 L209.00 359.43 L208.50 359.32 L208.00 359.20Z" fill="#5a5a5a"/>
<path d="M234.50 357.60 L235.00 357.41 L235.50 357.23 L236.00 357.04 L236.50 356.86 L237.00 356.67 L237.50 356.49 L238.00 356.30 L238.50 356.30 L239.00 356.30 L239.50 356.30 L240.00 356.30 L240.50 356.30 L241.00 356.30 L241.50 356.30 L242.00 356.30 L242.50 356.30 L243.00 356.30 L243.50 356.30 L244.00 356.30 L244.50 356.30 L245.00 356.30 L245.50 356.30 L246.00 356.30 L246.50 356.30 L247.00 356.30 L247.50 356.30 L248.00 356.30 L248.50 356.30 L249.00 356.30 L249.50 356.30 L250.00 356.30 L250.50 356.30 L251.00 356.30 L251.50 356.49 L252.00 356.68 L252.50 356.86 L253.00 357.05 L253.50 357.24 L254.00 357.43 L254.50 357.61 L255.00 357.80 L255.00 359.80 L254.50 359.89 L254.00 359.97 L253.50 360.06 L253.00 360.15 L252.50 360.24 L252.00 360.32 L251.50 360.41 L251.00 360.50 L250.50 360.50 L250.00 360.50 L249.50 360.50 L249.00 360.50 L248.50 360.50 L248.00 360.50 L247.50 360.50 L247.00 360.50 L246.50 360.50 L246.00 360.50 L245.50 360.50 L245.00 360.50 L244.50 360.50 L244.00 360.50 L243.50 360.50 L243.00 360.50 L242.50 360.50 L242.00 360.50 L241.50 360.50 L241.00 360.50 L240.50 360.50 L240.00 360.50 L239.50 360.50 L239.00 360.50 L238.50 360.50 L238.00 360.50 L237.50 360.37 L237.00 360.24 L236.50 360.11 L236.00 359.99 L235.50 359.86 L235.00 359.73 L234.50 359.60Z" fill="#0e0e0e"/>
<path d="M261.50 357.50 L262.00 357.33 L262.50 357.16 L263.00 356.99 L263.50 356.81 L264.00 356.64 L264.50 356.47 L265.00 356.30 L265.50 356.31 L266.00 356.33 L266.50 356.34 L267.00 356.36 L267.50 356.37 L268.00 356.39 L268.50 356.40 L269.00 356.41 L269.50 356.43 L270.00 356.44 L270.50 356.46 L271.00 356.47 L271.50 356.49 L272.00 356.50 L272.50 356.51 L273.00 356.53 L273.50 356.54 L274.00 356.56 L274.50 356.57 L275.00 356.59 L275.50 356.60 L276.00 356.61 L276.50 356.63 L277.00 356.64 L277.50 356.66 L278.00 356.67 L278.50 356.69 L279.00 356.70 L279.50 356.83 L280.00 356.97 L280.50 357.10 L281.00 357.23 L281.50 357.37 L282.00 357.50 L282.50 357.63 L283.00 357.77 L283.50 357.90 L283.50 360.10 L283.00 360.19 L282.50 360.28 L282.00 360.37 L281.50 360.46 L281.00 360.54 L280.50 360.63 L280.00 360.72 L279.50 360.81 L279.00 360.90 L278.50 360.89 L278.00 360.87 L277.50 360.86 L277.00 360.84 L276.50 360.83 L276.00 360.81 L275.50 360.80 L275.00 360.79 L274.50 360.77 L274.00 360.76 L273.50 360.74 L273.00 360.73 L272.50 360.71 L272.00 360.70 L271.50 360.69 L271.00 360.67 L270.50 360.66 L270.00 360.64 L269.50 360.63 L269.00 360.61 L268.50 360.60 L268.00 360.59 L267.50 360.57 L267.00 360.56 L266.50 360.54 L266.00 360.53 L265.50 360.51 L265.00 360.50 L264.50 360.39 L264.00 360.27 L263.50 360.16 L263.00 360.04 L262.50 359.93 L262.00 359.81 L261.50 359.70Z" fill="#030303"/>
<path d="M289.00 358.00 L289.50 357.73 L290.00 357.47 L290.50 357.20 L291.00 356.93 L291.50 356.67 L292.00 356.40 L292.50 356.41 L293.00 356.41 L293.50 356.42 L294.00 356.42 L294.50 356.43 L295.00 356.44 L295.50 356.44 L296.00 356.45 L296.50 356.45 L297.00 356.46 L297.50 356.46 L298.00 356.47 L298.50 356.48 L299.00 356.48 L299.50 356.49 L300.00 356.49 L300.50 356.50 L301.00 356.51 L301.50 356.51 L302.00 356.52 L302.50 356.52 L303.00 356.53 L303.50 356.54 L304.00 356.54 L304.50 356.55 L305.00 356.55 L305.50 356.56 L306.00 356.56 L306.50 356.57 L307.00 356.58 L307.50 356.58 L308.00 356.59 L308.50 356.59 L309.00 356.60 L309.50 356.80 L310.00 357.00 L310.50 357.20 L311.00 357.40 L311.50 357.60 L312.00 357.80 L312.50 358.00 L313.00 358.20 L313.00 362.20 L312.50 362.35 L312.00 362.50 L311.50 362.65 L311.00 362.80 L310.50 362.95 L310.00 363.10 L309.50 363.25 L309.00 363.40 L308.50 363.39 L308.00 363.39 L307.50 363.38 L307.00 363.38 L306.50 363.37 L306.00 363.36 L305.50 363.36 L305.00 363.35 L304.50 363.35 L304.00 363.34 L303.50 363.34 L303.00 363.33 L302.50 363.32 L302.00 363.32 L301.50 363.31 L301.00 363.31 L300.50 363.30 L300.00 363.29 L299.50 363.29 L299.00 363.28 L298.50 363.28 L298.00 363.27 L297.50 363.26 L297.00 363.26 L296.50 363.25 L296.00 363.25 L295.50 363.24 L295.00 363.24 L294.50 363.23 L294.00 363.22 L293.50 363.22 L293.00 363.21 L292.50 363.21 L292.00 363.20 L291.50 363.00 L291.00 362.80 L290.50 362.60 L290.00 362.40 L289.50 362.20 L289.00 362.00Z" fill="#000"/>
<circle cx="185" cy="357" r="0.8" fill="#bbb"/>
</g>
<circle cx="36.9" cy="376" r="0.9" fill="#000"/>
<text x="75.80" y="397.86" font-size="8.5" textLength="50" lengthAdjust="spacingAndGlyphs" fill="#1a1a1a" stroke="#1a1a1a" stroke-width="0.25">Total cell lysate</text>
<line x1="37.6" y1="402" x2="164" y2="402" stroke="#333" stroke-width="1.1"/>
<text x="40.30" y="414.16" font-size="8.5" text-anchor="middle" textLength="12.1" lengthAdjust="spacingAndGlyphs" fill="#1a1a1a" stroke="#1a1a1a" stroke-width="0.25">3T3</text>
<text x="72.70" y="414.16" font-size="8.5" text-anchor="middle" textLength="18" lengthAdjust="spacingAndGlyphs" fill="#1a1a1a" stroke="#1a1a1a" stroke-width="0.25">COS7</text>
<text x="102.60" y="414.16" font-size="8.5" text-anchor="middle" textLength="17" lengthAdjust="spacingAndGlyphs" fill="#1a1a1a" stroke="#1a1a1a" stroke-width="0.25">HeLa</text>
<text x="130.70" y="414.16" font-size="8.5" text-anchor="middle" textLength="13.1" lengthAdjust="spacingAndGlyphs" fill="#1a1a1a" stroke="#1a1a1a" stroke-width="0.25">HEK</text>
<text x="158.00" y="414.16" font-size="8.5" text-anchor="middle" textLength="18.6" lengthAdjust="spacingAndGlyphs" fill="#1a1a1a" stroke="#1a1a1a" stroke-width="0.25">U2OS</text>
<text x="223.70" y="397.76" font-size="8.5" textLength="55.3" lengthAdjust="spacingAndGlyphs" fill="#1a1a1a" stroke="#1a1a1a" stroke-width="0.25">HA-HIS_ATL2, ng</text>
<line x1="189" y1="401.6" x2="305" y2="401.6" stroke="#333" stroke-width="1.1"/>
<text x="189.70" y="414.06" font-size="8.5" text-anchor="middle" textLength="4.11" lengthAdjust="spacingAndGlyphs" fill="#1a1a1a" stroke="#1a1a1a" stroke-width="0.25">2</text>
<text x="216.00" y="414.06" font-size="8.5" text-anchor="middle" textLength="4.11" lengthAdjust="spacingAndGlyphs" fill="#1a1a1a" stroke="#1a1a1a" stroke-width="0.25">4</text>
<text x="243.40" y="414.06" font-size="8.5" text-anchor="middle" textLength="4.11" lengthAdjust="spacingAndGlyphs" fill="#1a1a1a" stroke="#1a1a1a" stroke-width="0.25">8</text>
<text x="270.40" y="414.06" font-size="8.5" text-anchor="middle" textLength="8.23" lengthAdjust="spacingAndGlyphs" fill="#1a1a1a" stroke="#1a1a1a" stroke-width="0.25">16</text>
<text x="300.80" y="414.06" font-size="8.5" text-anchor="middle" textLength="8.23" lengthAdjust="spacingAndGlyphs" fill="#1a1a1a" stroke="#1a1a1a" stroke-width="0.25">32</text>
<text x="7.50" y="439.36" font-size="8.5" textLength="8.23" lengthAdjust="spacingAndGlyphs" fill="#1a1a1a" stroke="#1a1a1a" stroke-width="0.25">72</text>
<line x1="17" y1="436.3" x2="21" y2="436.3" stroke="#111" stroke-width="0.9"/>
<text x="7.00" y="460.66" font-size="8.5" textLength="8.23" lengthAdjust="spacingAndGlyphs" fill="#1a1a1a" stroke="#1a1a1a" stroke-width="0.25">55</text>
<line x1="320" y1="440" x2="324" y2="440" stroke="#111" stroke-width="0.9"/>
<text x="326.00" y="443.06" font-size="8.5" textLength="16" lengthAdjust="spacingAndGlyphs" fill="#1a1a1a" stroke="#1a1a1a" stroke-width="0.25">ATL2</text>
<rect x="22.8" y="418.8" width="295.2" height="40.2" fill="#ebebeb"/>
<g filter="url(#bl2)">
<line x1="96.50" y1="429.00" x2="111.50" y2="429.00" stroke="#dadada" stroke-width="5" stroke-linecap="round" opacity="1.0"/>
<rect x="121" y="423.5" width="20.5" height="18" rx="4" fill="#d2d2d2"/>
<line x1="122.75" y1="434.50" x2="139.75" y2="434.50" stroke="#b4b4b4" stroke-width="3.5" stroke-linecap="round" opacity="1.0"/>
<line x1="123.25" y1="428.50" x2="139.25" y2="428.50" stroke="#c6c6c6" stroke-width="2.5" stroke-linecap="round" opacity="1.0"/>
</g>
<g filter="url(#bl)">
<path d="M30.00 440.80 L30.50 440.65 L31.00 440.50 L31.50 440.35 L32.00 440.20 L32.50 440.05 L33.00 439.90 L33.50 439.90 L34.00 439.90 L34.50 439.90 L35.00 439.90 L35.50 439.90 L36.00 439.90 L36.50 439.90 L37.00 439.90 L37.50 439.90 L38.00 439.90 L38.50 439.90 L39.00 439.90 L39.50 439.90 L40.00 439.90 L40.50 439.90 L41.00 439.90 L41.50 439.90 L42.00 439.90 L42.50 439.90 L43.00 439.90 L43.50 439.90 L44.00 439.90 L44.50 439.90 L45.00 439.90 L45.50 439.90 L46.00 439.90 L46.50 439.90 L47.00 439.90 L47.50 439.90 L48.00 439.90 L48.50 439.90 L49.00 439.90 L49.50 439.90 L50.00 439.90 L50.50 439.90 L51.00 439.90 L51.50 439.90 L52.00 439.90 L52.50 440.03 L53.00 440.16 L53.50 440.29 L54.00 440.41 L54.50 440.54 L55.00 440.67 L55.50 440.80 L55.50 443.20 L55.00 443.33 L54.50 443.46 L54.00 443.59 L53.50 443.71 L53.00 443.84 L52.50 443.97 L52.00 444.10 L51.50 444.10 L51.00 444.10 L50.50 444.10 L50.00 444.10 L49.50 444.10 L49.00 444.10 L48.50 444.10 L48.00 444.10 L47.50 444.10 L47.00 444.10 L46.50 444.10 L46.00 444.10 L45.50 444.10 L45.00 444.10 L44.50 444.10 L44.00 444.10 L43.50 444.10 L43.00 444.10 L42.50 444.10 L42.00 444.10 L41.50 444.10 L41.00 444.10 L40.50 444.10 L40.00 444.10 L39.50 444.10 L39.00 444.10 L38.50 444.10 L38.00 444.10 L37.50 444.10 L37.00 444.10 L36.50 444.10 L36.00 444.10 L35.50 444.10 L35.00 444.10 L34.50 444.10 L34.00 444.10 L33.50 444.10 L33.00 444.10 L32.50 443.95 L32.00 443.80 L31.50 443.65 L31.00 443.50 L30.50 443.35 L30.00 443.20Z" fill="#a0a0a0"/>
<path d="M28.50 445.30 L29.00 445.11 L29.50 444.93 L30.00 444.74 L30.50 444.56 L31.00 444.37 L31.50 444.19 L32.00 444.00 L32.50 444.00 L33.00 444.00 L33.50 444.00 L34.00 444.00 L34.50 444.00 L35.00 444.00 L35.50 444.00 L36.00 444.00 L36.50 444.00 L37.00 444.00 L37.50 444.00 L38.00 444.00 L38.50 444.00 L39.00 444.00 L39.50 444.00 L40.00 444.00 L40.50 444.00 L41.00 444.00 L41.50 444.00 L42.00 444.00 L42.50 444.00 L43.00 444.00 L43.50 444.00 L44.00 444.00 L44.50 444.00 L45.00 444.00 L45.50 444.00 L46.00 444.00 L46.50 444.00 L47.00 444.00 L47.50 444.00 L48.00 444.00 L48.50 444.00 L49.00 444.00 L49.50 444.00 L50.00 444.00 L50.50 444.00 L51.00 444.00 L51.50 444.00 L52.00 444.00 L52.50 444.00 L53.00 444.00 L53.50 444.12 L54.00 444.23 L54.50 444.35 L55.00 444.47 L55.50 444.58 L56.00 444.70 L56.00 446.50 L55.50 446.62 L55.00 446.73 L54.50 446.85 L54.00 446.97 L53.50 447.08 L53.00 447.20 L52.50 447.20 L52.00 447.20 L51.50 447.20 L51.00 447.20 L50.50 447.20 L50.00 447.20 L49.50 447.20 L49.00 447.20 L48.50 447.20 L48.00 447.20 L47.50 447.20 L47.00 447.20 L46.50 447.20 L46.00 447.20 L45.50 447.20 L45.00 447.20 L44.50 447.22 L44.00 447.23 L43.50 447.25 L43.00 447.26 L42.50 447.28 L42.00 447.29 L41.50 447.31 L41.00 447.32 L40.50 447.34 L40.00 447.35 L39.50 447.37 L39.00 447.38 L38.50 447.40 L38.00 447.42 L37.50 447.43 L37.00 447.45 L36.50 447.46 L36.00 447.48 L35.50 447.49 L35.00 447.51 L34.50 447.52 L34.00 447.54 L33.50 447.55 L33.00 447.57 L32.50 447.58 L32.00 447.60 L31.50 447.53 L31.00 447.46 L30.50 447.39 L30.00 447.31 L29.50 447.24 L29.00 447.17 L28.50 447.10Z" fill="#050505"/>
<path d="M60.00 444.30 L60.50 444.08 L61.00 443.87 L61.50 443.65 L62.00 443.43 L62.50 443.22 L63.00 443.00 L63.50 442.99 L64.00 442.98 L64.50 442.97 L65.00 442.96 L65.50 442.96 L66.00 442.95 L66.50 442.94 L67.00 442.93 L67.50 442.92 L68.00 442.91 L68.50 442.90 L69.00 442.89 L69.50 442.89 L70.00 442.88 L70.50 442.87 L71.00 442.86 L71.50 442.85 L72.00 442.84 L72.50 442.83 L73.00 442.82 L73.50 442.81 L74.00 442.81 L74.50 442.80 L75.00 442.79 L75.50 442.78 L76.00 442.77 L76.50 442.76 L77.00 442.75 L77.50 442.74 L78.00 442.74 L78.50 442.73 L79.00 442.72 L79.50 442.71 L80.00 442.70 L80.50 442.71 L81.00 442.72 L81.50 442.73 L82.00 442.73 L82.50 442.74 L83.00 442.75 L83.50 442.76 L84.00 442.77 L84.50 442.78 L85.00 442.78 L85.50 442.79 L86.00 442.80 L86.50 443.00 L87.00 443.20 L87.50 443.40 L88.00 443.60 L88.50 443.80 L89.00 444.00 L89.00 446.00 L88.50 446.13 L88.00 446.27 L87.50 446.40 L87.00 446.53 L86.50 446.67 L86.00 446.80 L85.50 446.81 L85.00 446.82 L84.50 446.82 L84.00 446.83 L83.50 446.84 L83.00 446.85 L82.50 446.86 L82.00 446.87 L81.50 446.88 L81.00 446.88 L80.50 446.89 L80.00 446.90 L79.50 446.90 L79.00 446.91 L78.50 446.91 L78.00 446.91 L77.50 446.91 L77.00 446.92 L76.50 446.92 L76.00 446.92 L75.50 446.93 L75.00 446.93 L74.50 446.93 L74.00 446.94 L73.50 446.94 L73.00 446.94 L72.50 446.94 L72.00 446.95 L71.50 446.95 L71.00 446.95 L70.50 446.96 L70.00 446.96 L69.50 446.96 L69.00 446.96 L68.50 446.97 L68.00 446.97 L67.50 446.97 L67.00 446.98 L66.50 446.98 L66.00 446.98 L65.50 446.99 L65.00 446.99 L64.50 446.99 L64.00 446.99 L63.50 447.00 L63.00 447.00 L62.50 446.92 L62.00 446.83 L61.50 446.75 L61.00 446.67 L60.50 446.58 L60.00 446.50Z" fill="#030303"/>
<path d="M62.00 440.40 L62.50 440.27 L63.00 440.13 L63.50 440.00 L64.00 439.87 L64.50 439.73 L65.00 439.60 L65.50 439.60 L66.00 439.60 L66.50 439.60 L67.00 439.60 L67.50 439.60 L68.00 439.60 L68.50 439.60 L69.00 439.60 L69.50 439.60 L70.00 439.60 L70.50 439.60 L71.00 439.60 L71.50 439.60 L72.00 439.60 L72.50 439.60 L73.00 439.60 L73.50 439.60 L74.00 439.60 L74.50 439.60 L75.00 439.60 L75.50 439.60 L76.00 439.60 L76.50 439.60 L77.00 439.60 L77.50 439.60 L78.00 439.60 L78.50 439.60 L79.00 439.60 L79.50 439.60 L80.00 439.60 L80.50 439.60 L81.00 439.60 L81.50 439.60 L82.00 439.60 L82.50 439.60 L83.00 439.60 L83.50 439.60 L84.00 439.60 L84.50 439.70 L85.00 439.80 L85.50 439.90 L86.00 440.00 L86.50 440.10 L87.00 440.20 L87.50 440.30 L88.00 440.40 L88.00 442.40 L87.50 442.45 L87.00 442.50 L86.50 442.55 L86.00 442.60 L85.50 442.65 L85.00 442.70 L84.50 442.75 L84.00 442.80 L83.50 442.80 L83.00 442.80 L82.50 442.80 L82.00 442.80 L81.50 442.80 L81.00 442.80 L80.50 442.80 L80.00 442.80 L79.50 442.80 L79.00 442.80 L78.50 442.80 L78.00 442.80 L77.50 442.80 L77.00 442.80 L76.50 442.80 L76.00 442.80 L75.50 442.80 L75.00 442.80 L74.50 442.80 L74.00 442.80 L73.50 442.80 L73.00 442.80 L72.50 442.80 L72.00 442.80 L71.50 442.80 L71.00 442.80 L70.50 442.80 L70.00 442.80 L69.50 442.80 L69.00 442.80 L68.50 442.80 L68.00 442.80 L67.50 442.80 L67.00 442.80 L66.50 442.80 L66.00 442.80 L65.50 442.80 L65.00 442.80 L64.50 442.73 L64.00 442.67 L63.50 442.60 L63.00 442.53 L62.50 442.47 L62.00 442.40Z" fill="#c2c2c2"/>
<path d="M94.50 438.60 L95.00 438.40 L95.50 438.20 L96.00 438.00 L96.50 437.80 L97.00 437.60 L97.50 437.60 L98.00 437.60 L98.50 437.60 L99.00 437.60 L99.50 437.60 L100.00 437.60 L100.50 437.60 L101.00 437.60 L101.50 437.60 L102.00 437.60 L102.50 437.60 L103.00 437.60 L103.50 437.60 L104.00 437.60 L104.50 437.60 L105.00 437.60 L105.50 437.60 L106.00 437.60 L106.50 437.60 L107.00 437.60 L107.50 437.60 L108.00 437.60 L108.50 437.60 L109.00 437.60 L109.50 437.60 L110.00 437.60 L110.50 437.60 L111.00 437.60 L111.50 437.77 L112.00 437.93 L112.50 438.10 L113.00 438.27 L113.50 438.43 L114.00 438.60 L114.00 441.00 L113.50 441.10 L113.00 441.20 L112.50 441.30 L112.00 441.40 L111.50 441.50 L111.00 441.60 L110.50 441.60 L110.00 441.60 L109.50 441.60 L109.00 441.60 L108.50 441.60 L108.00 441.60 L107.50 441.60 L107.00 441.60 L106.50 441.60 L106.00 441.60 L105.50 441.60 L105.00 441.60 L104.50 441.60 L104.00 441.60 L103.50 441.60 L103.00 441.60 L102.50 441.60 L102.00 441.60 L101.50 441.60 L101.00 441.60 L100.50 441.60 L100.00 441.60 L99.50 441.60 L99.00 441.60 L98.50 441.60 L98.00 441.60 L97.50 441.60 L97.00 441.60 L96.50 441.48 L96.00 441.36 L95.50 441.24 L95.00 441.12 L94.50 441.00Z" fill="#7e7e7e"/>
<path d="M89.00 443.60 L89.50 443.48 L90.00 443.37 L90.50 443.25 L91.00 443.13 L91.50 443.02 L92.00 442.90 L92.50 442.78 L93.00 442.67 L93.50 442.55 L94.00 442.43 L94.50 442.32 L95.00 442.20 L95.50 442.20 L96.00 442.20 L96.50 442.20 L97.00 442.20 L97.50 442.20 L98.00 442.20 L98.50 442.20 L99.00 442.20 L99.50 442.20 L100.00 442.20 L100.50 442.20 L101.00 442.20 L101.50 442.20 L102.00 442.20 L102.50 442.20 L103.00 442.20 L103.50 442.20 L104.00 442.20 L104.50 442.20 L105.00 442.20 L105.50 442.20 L106.00 442.20 L106.50 442.20 L107.00 442.20 L107.50 442.20 L108.00 442.20 L108.50 442.20 L109.00 442.20 L109.50 442.20 L110.00 442.20 L110.50 442.20 L111.00 442.20 L111.50 442.20 L112.00 442.20 L112.50 442.20 L113.00 442.20 L113.50 442.46 L114.00 442.72 L114.50 442.99 L115.00 443.25 L115.50 443.51 L116.00 443.78 L116.50 444.04 L117.00 444.30 L117.50 444.02 L118.00 443.75 L118.50 443.48 L119.00 443.20 L119.50 442.93 L120.00 442.65 L120.50 442.38 L121.00 442.10 L121.50 442.10 L122.00 442.09 L122.50 442.09 L123.00 442.09 L123.50 442.09 L124.00 442.08 L124.50 442.08 L125.00 442.08 L125.50 442.08 L126.00 442.07 L126.50 442.07 L127.00 442.07 L127.50 442.07 L128.00 442.06 L128.50 442.06 L129.00 442.06 L129.50 442.06 L130.00 442.05 L130.50 442.05 L131.00 442.05 L131.50 442.04 L132.00 442.04 L132.50 442.04 L133.00 442.04 L133.50 442.03 L134.00 442.03 L134.50 442.03 L135.00 442.03 L135.50 442.02 L136.00 442.02 L136.50 442.02 L137.00 442.02 L137.50 442.01 L138.00 442.01 L138.50 442.01 L139.00 442.01 L139.50 442.00 L140.00 442.00 L140.50 442.18 L141.00 442.35 L141.50 442.52 L142.00 442.70 L142.50 442.88 L143.00 443.05 L143.50 443.23 L144.00 443.40 L144.50 443.57 L145.00 443.75 L145.50 443.93 L146.00 444.10 L146.00 445.90 L145.50 445.82 L145.00 445.75 L144.50 445.68 L144.00 445.60 L143.50 445.52 L143.00 445.45 L142.50 445.38 L142.00 445.30 L141.50 445.23 L141.00 445.15 L140.50 445.07 L140.00 445.00 L139.50 445.00 L139.00 445.01 L138.50 445.01 L138.00 445.01 L137.50 445.01 L137.00 445.02 L136.50 445.02 L136.00 445.02 L135.50 445.02 L135.00 445.03 L134.50 445.03 L134.00 445.03 L133.50 445.03 L133.00 445.04 L132.50 445.04 L132.00 445.04 L131.50 445.04 L131.00 445.05 L130.50 445.05 L130.00 445.05 L129.50 445.06 L129.00 445.06 L128.50 445.06 L128.00 445.06 L127.50 445.07 L127.00 445.07 L126.50 445.07 L126.00 445.07 L125.50 445.08 L125.00 445.08 L124.50 445.08 L124.00 445.08 L123.50 445.09 L123.00 445.09 L122.50 445.09 L122.00 445.09 L121.50 445.10 L121.00 445.10 L120.50 445.23 L120.00 445.35 L119.50 445.47 L119.00 445.60 L118.50 445.73 L118.00 445.85 L117.50 445.98 L117.00 446.10 L116.50 446.01 L116.00 445.93 L115.50 445.84 L115.00 445.75 L114.50 445.66 L114.00 445.57 L113.50 445.49 L113.00 445.40 L112.50 445.40 L112.00 445.40 L111.50 445.40 L111.00 445.40 L110.50 445.40 L110.00 445.40 L109.50 445.40 L109.00 445.40 L108.50 445.40 L108.00 445.40 L107.50 445.40 L107.00 445.40 L106.50 445.40 L106.00 445.40 L105.50 445.40 L105.00 445.40 L104.50 445.40 L104.00 445.40 L103.50 445.40 L103.00 445.40 L102.50 445.40 L102.00 445.40 L101.50 445.40 L101.00 445.40 L100.50 445.40 L100.00 445.40 L99.50 445.40 L99.00 445.40 L98.50 445.40 L98.00 445.40 L97.50 445.40 L97.00 445.40 L96.50 445.40 L96.00 445.40 L95.50 445.40 L95.00 445.40 L94.50 445.45 L94.00 445.50 L93.50 445.55 L93.00 445.60 L92.50 445.65 L92.00 445.70 L91.50 445.75 L91.00 445.80 L90.50 445.85 L90.00 445.90 L89.50 445.95 L89.00 446.00Z" fill="#3a3a3a"/>
<path d="M121.50 438.60 L122.00 438.48 L122.50 438.36 L123.00 438.24 L123.50 438.12 L124.00 438.00 L124.50 438.00 L125.00 438.00 L125.50 438.00 L126.00 438.00 L126.50 438.00 L127.00 438.00 L127.50 438.00 L128.00 438.00 L128.50 438.00 L129.00 438.00 L129.50 438.00 L130.00 438.00 L130.50 438.00 L131.00 438.00 L131.50 438.00 L132.00 438.00 L132.50 438.00 L133.00 438.00 L133.50 438.00 L134.00 438.00 L134.50 438.00 L135.00 438.00 L135.50 438.00 L136.00 438.00 L136.50 438.00 L137.00 438.00 L137.50 438.00 L138.00 438.00 L138.50 438.00 L139.00 438.00 L139.50 438.12 L140.00 438.24 L140.50 438.36 L141.00 438.48 L141.50 438.60 L141.50 440.60 L141.00 440.72 L140.50 440.84 L140.00 440.96 L139.50 441.08 L139.00 441.20 L138.50 441.20 L138.00 441.20 L137.50 441.20 L137.00 441.20 L136.50 441.20 L136.00 441.20 L135.50 441.20 L135.00 441.20 L134.50 441.20 L134.00 441.20 L133.50 441.20 L133.00 441.20 L132.50 441.20 L132.00 441.20 L131.50 441.20 L131.00 441.20 L130.50 441.20 L130.00 441.20 L129.50 441.20 L129.00 441.20 L128.50 441.20 L128.00 441.20 L127.50 441.20 L127.00 441.20 L126.50 441.20 L126.00 441.20 L125.50 441.20 L125.00 441.20 L124.50 441.20 L124.00 441.20 L123.50 441.08 L123.00 440.96 L122.50 440.84 L122.00 440.72 L121.50 440.60Z" fill="#959595"/>
<path d="M147.80 437.00 L148.30 436.56 L148.80 436.12 L149.30 435.68 L149.80 435.50 L150.30 435.50 L150.80 435.49 L151.30 435.49 L151.80 435.49 L152.30 435.49 L152.80 435.48 L153.30 435.48 L153.80 435.48 L154.30 435.48 L154.80 435.48 L155.30 435.47 L155.80 435.47 L156.30 435.47 L156.80 435.47 L157.30 435.46 L157.80 435.46 L158.30 435.46 L158.80 435.46 L159.30 435.45 L159.80 435.45 L160.30 435.45 L160.80 435.45 L161.30 435.45 L161.80 435.44 L162.30 435.44 L162.80 435.44 L163.30 435.44 L163.80 435.43 L164.30 435.43 L164.80 435.43 L165.30 435.43 L165.80 435.42 L166.30 435.42 L166.80 435.42 L167.30 435.42 L167.80 435.41 L168.30 435.41 L168.80 435.41 L169.30 435.41 L169.80 435.41 L170.30 435.40 L170.80 435.40 L171.30 435.59 L171.80 435.91 L172.30 436.23 L172.80 436.55 L172.80 443.82 L172.30 444.09 L171.80 444.36 L171.30 444.64 L170.80 444.80 L170.30 444.80 L169.80 444.79 L169.30 444.79 L168.80 444.79 L168.30 444.79 L167.80 444.79 L167.30 444.78 L166.80 444.78 L166.30 444.78 L165.80 444.78 L165.30 444.77 L164.80 444.77 L164.30 444.77 L163.80 444.77 L163.30 444.76 L162.80 444.76 L162.30 444.76 L161.80 444.76 L161.30 444.75 L160.80 444.75 L160.30 444.75 L159.80 444.75 L159.30 444.75 L158.80 444.74 L158.30 444.74 L157.80 444.74 L157.30 444.74 L156.80 444.73 L156.30 444.73 L155.80 444.73 L155.30 444.73 L154.80 444.72 L154.30 444.72 L153.80 444.72 L153.30 444.72 L152.80 444.72 L152.30 444.71 L151.80 444.71 L151.30 444.71 L150.80 444.71 L150.30 444.70 L149.80 444.70 L149.30 444.55 L148.80 444.16 L148.30 443.78 L147.80 443.40Z" fill="#8e8e8e"/>
<path d="M149.00 442.20 L149.50 442.03 L150.00 441.85 L150.50 441.67 L151.00 441.50 L151.50 441.50 L152.00 441.49 L152.50 441.48 L153.00 441.48 L153.50 441.47 L154.00 441.47 L154.50 441.46 L155.00 441.46 L155.50 441.45 L156.00 441.45 L156.50 441.44 L157.00 441.44 L157.50 441.44 L158.00 441.43 L158.50 441.43 L159.00 441.42 L159.50 441.42 L160.00 441.41 L160.50 441.41 L161.00 441.40 L161.50 441.39 L162.00 441.39 L162.50 441.38 L163.00 441.38 L163.50 441.38 L164.00 441.37 L164.50 441.37 L165.00 441.36 L165.50 441.35 L166.00 441.35 L166.50 441.34 L167.00 441.34 L167.50 441.33 L168.00 441.33 L168.50 441.32 L169.00 441.32 L169.50 441.31 L170.00 441.31 L170.50 441.31 L171.00 441.30 L171.50 441.45 L172.00 441.60 L172.50 441.75 L173.00 441.90 L173.00 443.90 L172.50 444.00 L172.00 444.10 L171.50 444.20 L171.00 444.30 L170.50 444.30 L170.00 444.30 L169.50 444.30 L169.00 444.30 L168.50 444.30 L168.00 444.30 L167.50 444.30 L167.00 444.30 L166.50 444.30 L166.00 444.30 L165.50 444.30 L165.00 444.30 L164.50 444.30 L164.00 444.30 L163.50 444.30 L163.00 444.30 L162.50 444.30 L162.00 444.30 L161.50 444.30 L161.00 444.30 L160.50 444.30 L160.00 444.30 L159.50 444.30 L159.00 444.30 L158.50 444.30 L158.00 444.30 L157.50 444.30 L157.00 444.30 L156.50 444.30 L156.00 444.30 L155.50 444.30 L155.00 444.30 L154.50 444.30 L154.00 444.30 L153.50 444.30 L153.00 444.30 L152.50 444.30 L152.00 444.30 L151.50 444.30 L151.00 444.30 L150.50 444.17 L150.00 444.05 L149.50 443.93 L149.00 443.80Z" fill="#4a4a4a"/>
<path d="M149.50 437.20 L150.00 437.10 L150.50 437.00 L151.00 436.90 L151.50 436.80 L152.00 436.70 L152.50 436.69 L153.00 436.68 L153.50 436.68 L154.00 436.67 L154.50 436.66 L155.00 436.65 L155.50 436.65 L156.00 436.64 L156.50 436.63 L157.00 436.62 L157.50 436.62 L158.00 436.61 L158.50 436.60 L159.00 436.59 L159.50 436.58 L160.00 436.58 L160.50 436.57 L161.00 436.56 L161.50 436.55 L162.00 436.55 L162.50 436.54 L163.00 436.53 L163.50 436.52 L164.00 436.52 L164.50 436.51 L165.00 436.50 L165.50 436.58 L166.00 436.67 L166.50 436.75 L167.00 436.83 L167.50 436.92 L168.00 437.00 L168.00 438.20 L167.50 438.22 L167.00 438.23 L166.50 438.25 L166.00 438.27 L165.50 438.28 L165.00 438.30 L164.50 438.31 L164.00 438.32 L163.50 438.32 L163.00 438.33 L162.50 438.34 L162.00 438.35 L161.50 438.35 L161.00 438.36 L160.50 438.37 L160.00 438.38 L159.50 438.38 L159.00 438.39 L158.50 438.40 L158.00 438.41 L157.50 438.42 L157.00 438.42 L156.50 438.43 L156.00 438.44 L155.50 438.45 L155.00 438.45 L154.50 438.46 L154.00 438.47 L153.50 438.48 L153.00 438.48 L152.50 438.49 L152.00 438.50 L151.50 438.48 L151.00 438.46 L150.50 438.44 L150.00 438.42 L149.50 438.40Z" fill="#6a6a6a"/>
<path d="M149.50 439.60 L150.00 439.56 L150.50 439.52 L151.00 439.48 L151.50 439.44 L152.00 439.40 L152.50 439.39 L153.00 439.38 L153.50 439.38 L154.00 439.37 L154.50 439.36 L155.00 439.35 L155.50 439.35 L156.00 439.34 L156.50 439.33 L157.00 439.32 L157.50 439.32 L158.00 439.31 L158.50 439.30 L159.00 439.29 L159.50 439.28 L160.00 439.28 L160.50 439.27 L161.00 439.26 L161.50 439.25 L162.00 439.25 L162.50 439.24 L163.00 439.23 L163.50 439.22 L164.00 439.22 L164.50 439.21 L165.00 439.20 L165.50 439.27 L166.00 439.33 L166.50 439.40 L167.00 439.47 L167.50 439.53 L168.00 439.60 L168.00 440.80 L167.50 440.80 L167.00 440.80 L166.50 440.80 L166.00 440.80 L165.50 440.80 L165.00 440.80 L164.50 440.81 L164.00 440.82 L163.50 440.82 L163.00 440.83 L162.50 440.84 L162.00 440.85 L161.50 440.85 L161.00 440.86 L160.50 440.87 L160.00 440.88 L159.50 440.88 L159.00 440.89 L158.50 440.90 L158.00 440.91 L157.50 440.92 L157.00 440.92 L156.50 440.93 L156.00 440.94 L155.50 440.95 L155.00 440.95 L154.50 440.96 L154.00 440.97 L153.50 440.98 L153.00 440.98 L152.50 440.99 L152.00 441.00 L151.50 440.96 L151.00 440.92 L150.50 440.88 L150.00 440.84 L149.50 440.80Z" fill="#6a6a6a"/>
<rect x="165.5" y="436" width="6" height="9" rx="1.5" fill="#3c3c3c"/>
<line x1="182.50" y1="437.80" x2="199.00" y2="437.80" stroke="#808080" stroke-width="2.4" stroke-linecap="round" opacity="1.0"/>
<path d="M208.30 438.10 L208.80 437.95 L209.30 437.80 L209.80 437.66 L210.30 437.51 L210.80 437.36 L211.30 437.30 L211.80 437.30 L212.30 437.30 L212.80 437.30 L213.30 437.30 L213.80 437.30 L214.30 437.30 L214.80 437.30 L215.30 437.30 L215.80 437.30 L216.30 437.30 L216.80 437.30 L217.30 437.30 L217.80 437.30 L218.30 437.30 L218.80 437.30 L219.30 437.30 L219.80 437.30 L220.30 437.30 L220.80 437.30 L221.30 437.30 L221.80 437.30 L222.30 437.30 L222.80 437.30 L223.30 437.30 L223.80 437.30 L224.30 437.30 L224.80 437.30 L225.30 437.38 L225.80 437.51 L226.30 437.65 L226.80 437.78 L227.30 437.91 L227.80 438.05 L227.80 439.95 L227.30 440.09 L226.80 440.22 L226.30 440.35 L225.80 440.49 L225.30 440.62 L224.80 440.70 L224.30 440.70 L223.80 440.70 L223.30 440.70 L222.80 440.70 L222.30 440.70 L221.80 440.70 L221.30 440.70 L220.80 440.70 L220.30 440.70 L219.80 440.70 L219.30 440.70 L218.80 440.70 L218.30 440.70 L217.80 440.70 L217.30 440.70 L216.80 440.70 L216.30 440.70 L215.80 440.70 L215.30 440.70 L214.80 440.70 L214.30 440.70 L213.80 440.70 L213.30 440.70 L212.80 440.70 L212.30 440.70 L211.80 440.70 L211.30 440.70 L210.80 440.64 L210.30 440.49 L209.80 440.34 L209.30 440.20 L208.80 440.05 L208.30 439.90Z" fill="#747474"/>
<path d="M234.70 437.80 L235.20 437.60 L235.70 437.41 L236.20 437.21 L236.70 437.01 L237.20 436.82 L237.70 436.62 L238.20 436.50 L238.70 436.50 L239.20 436.50 L239.70 436.50 L240.20 436.50 L240.70 436.50 L241.20 436.50 L241.70 436.50 L242.20 436.50 L242.70 436.50 L243.20 436.50 L243.70 436.50 L244.20 436.50 L244.70 436.50 L245.20 436.50 L245.70 436.50 L246.20 436.50 L246.70 436.50 L247.20 436.50 L247.70 436.50 L248.20 436.50 L248.70 436.50 L249.20 436.50 L249.70 436.50 L250.20 436.50 L250.70 436.50 L251.20 436.50 L251.70 436.50 L252.20 436.57 L252.70 436.76 L253.20 436.95 L253.70 437.13 L254.20 437.32 L254.70 437.50 L255.20 437.69 L255.20 440.68 L254.70 440.81 L254.20 440.93 L253.70 441.06 L253.20 441.19 L252.70 441.32 L252.20 441.45 L251.70 441.50 L251.20 441.50 L250.70 441.50 L250.20 441.50 L249.70 441.50 L249.20 441.50 L248.70 441.50 L248.20 441.50 L247.70 441.50 L247.20 441.50 L246.70 441.50 L246.20 441.50 L245.70 441.50 L245.20 441.50 L244.70 441.50 L244.20 441.50 L243.70 441.50 L243.20 441.50 L242.70 441.50 L242.20 441.50 L241.70 441.50 L241.20 441.50 L240.70 441.50 L240.20 441.50 L239.70 441.50 L239.20 441.50 L238.70 441.50 L238.20 441.50 L237.70 441.42 L237.20 441.28 L236.70 441.15 L236.20 441.01 L235.70 440.87 L235.20 440.74 L234.70 440.60Z" fill="#050505"/>
<path d="M260.80 437.40 L261.30 437.18 L261.80 436.96 L262.30 436.74 L262.80 436.52 L263.30 436.31 L263.80 436.09 L264.30 436.00 L264.80 436.00 L265.30 436.00 L265.80 436.00 L266.30 436.00 L266.80 436.00 L267.30 436.00 L267.80 436.00 L268.30 436.00 L268.80 436.00 L269.30 436.00 L269.80 436.00 L270.30 436.00 L270.80 436.00 L271.30 436.00 L271.80 436.00 L272.30 436.00 L272.80 436.00 L273.30 436.00 L273.80 436.00 L274.30 436.00 L274.80 436.00 L275.30 436.00 L275.80 436.00 L276.30 436.00 L276.80 436.00 L277.30 436.00 L277.80 436.00 L278.30 436.00 L278.80 436.00 L279.30 436.00 L279.80 436.00 L280.30 436.11 L280.80 436.28 L281.30 436.45 L281.80 436.63 L282.30 436.81 L282.80 436.98 L283.30 437.15 L283.80 437.33 L283.80 441.05 L283.30 441.17 L282.80 441.30 L282.30 441.43 L281.80 441.55 L281.30 441.68 L280.80 441.80 L280.30 441.92 L279.80 442.00 L279.30 442.00 L278.80 442.00 L278.30 442.00 L277.80 442.00 L277.30 442.00 L276.80 442.00 L276.30 442.00 L275.80 442.00 L275.30 442.00 L274.80 442.00 L274.30 442.00 L273.80 442.00 L273.30 442.00 L272.80 442.00 L272.30 442.00 L271.80 442.00 L271.30 442.00 L270.80 442.00 L270.30 442.00 L269.80 442.00 L269.30 442.00 L268.80 442.00 L268.30 442.00 L267.80 442.00 L267.30 442.00 L266.80 442.00 L266.30 442.00 L265.80 442.00 L265.30 442.00 L264.80 442.00 L264.30 442.00 L263.80 441.94 L263.30 441.78 L262.80 441.62 L262.30 441.47 L261.80 441.31 L261.30 441.16 L260.80 441.00Z" fill="#000"/>
<path d="M288.50 436.00 L289.00 435.76 L289.50 435.51 L290.00 435.27 L290.50 435.03 L291.00 434.79 L291.50 434.54 L292.00 434.30 L292.50 434.30 L293.00 434.30 L293.50 434.30 L294.00 434.30 L294.50 434.30 L295.00 434.30 L295.50 434.30 L296.00 434.30 L296.50 434.30 L297.00 434.30 L297.50 434.30 L298.00 434.30 L298.50 434.30 L299.00 434.30 L299.50 434.30 L300.00 434.30 L300.50 434.30 L301.00 434.30 L301.50 434.30 L302.00 434.30 L302.50 434.30 L303.00 434.30 L303.50 434.30 L304.00 434.30 L304.50 434.30 L305.00 434.30 L305.50 434.30 L306.00 434.30 L306.50 434.30 L307.00 434.30 L307.50 434.30 L308.00 434.30 L308.50 434.30 L309.00 434.30 L309.50 434.30 L310.00 434.30 L310.50 434.30 L311.00 434.30 L311.50 434.51 L312.00 434.73 L312.50 434.94 L313.00 435.15 L313.50 435.36 L314.00 435.57 L314.50 435.79 L315.00 436.00 L315.00 440.80 L314.50 440.96 L314.00 441.12 L313.50 441.29 L313.00 441.45 L312.50 441.61 L312.00 441.77 L311.50 441.94 L311.00 442.10 L310.50 442.10 L310.00 442.10 L309.50 442.10 L309.00 442.10 L308.50 442.10 L308.00 442.10 L307.50 442.10 L307.00 442.10 L306.50 442.10 L306.00 442.10 L305.50 442.10 L305.00 442.10 L304.50 442.10 L304.00 442.10 L303.50 442.10 L303.00 442.10 L302.50 442.10 L302.00 442.10 L301.50 442.10 L301.00 442.10 L300.50 442.10 L300.00 442.10 L299.50 442.10 L299.00 442.10 L298.50 442.10 L298.00 442.10 L297.50 442.10 L297.00 442.10 L296.50 442.10 L296.00 442.10 L295.50 442.10 L295.00 442.10 L294.50 442.10 L294.00 442.10 L293.50 442.10 L293.00 442.10 L292.50 442.10 L292.00 442.10 L291.50 441.91 L291.00 441.73 L290.50 441.54 L290.00 441.36 L289.50 441.17 L289.00 440.99 L288.50 440.80Z" fill="#000"/>
</g>
<circle cx="289.9" cy="458.6" r="1.2" fill="#000"/>
<circle cx="130.2" cy="422.1" r="0.9" fill="#000"/>
<circle cx="51.3" cy="423" r="0.6" fill="#222"/>
<circle cx="70.7" cy="423.5" r="0.6" fill="#222"/>
<circle cx="236" cy="421" r="0.5" fill="#888"/>
<circle cx="249" cy="425.5" r="0.5" fill="#999"/>
<text x="77.40" y="477.76" font-size="8.5" textLength="50.9" lengthAdjust="spacingAndGlyphs" fill="#1a1a1a" stroke="#1a1a1a" stroke-width="0.25">Total cell lysate</text>
<line x1="40.7" y1="481.8" x2="168" y2="481.8" stroke="#333" stroke-width="1.1"/>
<text x="45.30" y="497.66" font-size="8.5" text-anchor="middle" textLength="12.8" lengthAdjust="spacingAndGlyphs" fill="#1a1a1a" stroke="#1a1a1a" stroke-width="0.25">3T3</text>
<text x="73.40" y="497.66" font-size="8.5" text-anchor="middle" textLength="18.6" lengthAdjust="spacingAndGlyphs" fill="#1a1a1a" stroke="#1a1a1a" stroke-width="0.25">COS7</text>
<text x="104.00" y="497.66" font-size="8.5" text-anchor="middle" textLength="17.7" lengthAdjust="spacingAndGlyphs" fill="#1a1a1a" stroke="#1a1a1a" stroke-width="0.25">HeLa</text>
<text x="130.90" y="497.66" font-size="8.5" text-anchor="middle" textLength="14.2" lengthAdjust="spacingAndGlyphs" fill="#1a1a1a" stroke="#1a1a1a" stroke-width="0.25">HEK</text>
<text x="159.00" y="497.66" font-size="8.5" text-anchor="middle" textLength="20" lengthAdjust="spacingAndGlyphs" fill="#1a1a1a" stroke="#1a1a1a" stroke-width="0.25">U2OS</text>
<text x="7.50" y="530.06" font-size="8.5" textLength="8.23" lengthAdjust="spacingAndGlyphs" fill="#1a1a1a" stroke="#1a1a1a" stroke-width="0.25">95</text>
<line x1="18" y1="527" x2="22" y2="527" stroke="#111" stroke-width="0.9"/>
<line x1="182.4" y1="528.5" x2="186.4" y2="528.5" stroke="#111" stroke-width="0.9"/>
<text x="188.00" y="531.56" font-size="8.5" textLength="29" lengthAdjust="spacingAndGlyphs" fill="#1a1a1a" stroke="#1a1a1a" stroke-width="0.25">Calnexin</text>
<rect x="23.8" y="502" width="156.8" height="41" fill="#ebebeb"/>
<g filter="url(#bl2)">
<path d="M34.40 524 Q35.60 514.50 37.40 505 Q39.20 514.50 40.40 524Z" fill="#8a8a8a" opacity="1"/>
<path d="M62.50 526 Q63.50 519.50 65.00 513 Q66.50 519.50 67.50 526Z" fill="#888" opacity="1"/>
<line x1="116.60" y1="532.50" x2="143.40" y2="532.50" stroke="#b8b8b8" stroke-width="3.2" stroke-linecap="round" opacity="1.0"/>
<line x1="61.00" y1="530.50" x2="94.00" y2="530.50" stroke="#999" stroke-width="2" stroke-linecap="round" opacity="1.0"/>
</g>
<g filter="url(#bl)">
<path d="M35.60 525 Q36.32 517.50 37.40 510 Q38.48 517.50 39.20 525Z" fill="#1a1a1a" opacity="1"/>
<path d="M63.30 527 Q63.98 522.00 65.00 517 Q66.02 522.00 66.70 527Z" fill="#1a1a1a" opacity="1"/>
<path d="M29.00 524.40 L29.50 524.12 L30.00 523.84 L30.50 523.56 L31.00 523.28 L31.50 523.00 L32.00 523.04 L32.50 523.08 L33.00 523.12 L33.50 523.16 L34.00 523.20 L34.50 523.10 L35.00 523.00 L35.50 522.90 L36.00 522.80 L36.50 522.70 L37.00 522.60 L37.50 522.50 L38.00 522.72 L38.50 522.94 L39.00 523.16 L39.50 523.38 L40.00 523.60 L40.50 523.44 L41.00 523.28 L41.50 523.12 L42.00 522.96 L42.50 522.80 L43.00 522.68 L43.50 522.56 L44.00 522.44 L44.50 522.32 L45.00 522.20 L45.50 522.47 L46.00 522.73 L46.50 523.00 L47.00 523.27 L47.50 523.53 L48.00 523.80 L48.50 523.65 L49.00 523.50 L49.50 523.35 L50.00 523.20 L50.50 523.05 L51.00 522.90 L51.50 523.08 L52.00 523.27 L52.50 523.45 L53.00 523.63 L53.50 523.82 L54.00 524.00 L54.50 524.08 L55.00 524.15 L55.50 524.23 L56.00 524.30 L56.50 524.38 L57.00 524.45 L57.50 524.52 L58.00 524.60 L58.50 524.63 L59.00 524.66 L59.50 524.69 L60.00 524.71 L60.50 524.74 L61.00 524.77 L61.50 524.80 L62.00 524.68 L62.50 524.56 L63.00 524.44 L63.50 524.32 L64.00 524.20 L64.50 524.42 L65.00 524.63 L65.50 524.85 L66.00 525.07 L66.50 525.28 L67.00 525.50 L67.50 525.57 L68.00 525.63 L68.50 525.70 L69.00 525.77 L69.50 525.83 L70.00 525.90 L70.50 525.69 L71.00 525.48 L71.50 525.26 L72.00 525.05 L72.50 524.84 L73.00 524.62 L73.50 524.41 L74.00 524.20 L74.50 524.43 L75.00 524.65 L75.50 524.88 L76.00 525.10 L76.50 525.33 L77.00 525.55 L77.50 525.77 L78.00 526.00 L78.50 525.80 L79.00 525.60 L79.50 525.40 L80.00 525.20 L80.50 525.00 L81.00 524.80 L81.50 524.60 L82.00 524.40 L82.50 524.62 L83.00 524.85 L83.50 525.08 L84.00 525.30 L84.50 525.52 L85.00 525.75 L85.50 525.98 L86.00 526.20 L86.50 525.96 L87.00 525.71 L87.50 525.47 L88.00 525.23 L88.50 524.98 L89.00 524.74 L89.50 524.50 L90.00 524.49 L90.50 524.64 L91.00 524.79 L91.50 524.95 L92.00 525.10 L92.50 525.25 L93.00 525.40 L93.50 525.07 L94.00 524.73 L94.50 524.40 L95.00 524.07 L95.50 523.73 L96.00 523.40 L96.50 523.43 L97.00 523.45 L97.50 523.48 L98.00 523.50 L98.50 523.52 L99.00 523.55 L99.50 523.58 L100.00 523.60 L100.50 523.65 L101.00 523.70 L101.50 523.75 L102.00 523.80 L102.50 523.85 L103.00 523.90 L103.50 523.84 L104.00 523.78 L104.50 523.72 L105.00 523.66 L105.50 523.60 L106.00 523.54 L106.50 523.48 L107.00 523.42 L107.50 523.36 L108.00 523.30 L108.50 523.36 L109.00 523.42 L109.50 523.49 L110.00 523.55 L110.50 523.61 L111.00 523.67 L111.50 523.74 L112.00 523.80 L112.50 524.03 L113.00 524.27 L113.50 524.50 L114.00 524.73 L114.50 524.97 L115.00 525.20 L115.50 525.08 L116.00 524.96 L116.50 524.84 L117.00 524.72 L117.50 524.59 L118.00 524.47 L118.50 524.53 L119.00 524.87 L119.50 525.20 L120.00 525.53 L120.50 525.87 L121.00 526.20 L121.50 525.89 L122.00 525.58 L122.50 525.28 L123.00 524.97 L123.50 524.66 L124.00 524.93 L124.50 525.35 L125.00 525.77 L125.50 526.18 L126.00 526.60 L126.50 526.20 L127.00 525.80 L127.50 525.40 L128.00 525.00 L128.50 525.32 L129.00 525.64 L129.50 525.96 L130.00 526.28 L130.50 526.60 L131.00 526.29 L131.50 525.98 L132.00 525.67 L132.50 525.36 L133.00 525.05 L133.50 524.89 L134.00 525.31 L134.50 525.74 L135.00 526.17 L135.50 526.60 L136.00 526.25 L136.50 525.90 L137.00 525.56 L137.50 525.21 L138.00 525.19 L138.50 525.66 L139.00 526.13 L139.50 526.60 L140.00 526.10 L140.50 525.60 L141.00 525.10 L141.50 524.91 L142.00 525.18 L142.50 525.45 L143.00 525.73 L143.50 526.00 L144.00 525.50 L144.50 525.00 L145.00 524.50 L145.50 524.00 L146.00 524.03 L146.50 524.07 L147.00 524.10 L147.50 524.13 L148.00 524.17 L148.50 524.20 L149.00 524.23 L149.50 524.27 L150.00 524.30 L150.50 524.30 L151.00 524.30 L151.50 524.30 L152.00 524.30 L152.50 524.30 L153.00 524.30 L153.50 524.30 L154.00 524.30 L154.50 524.30 L155.00 524.30 L155.50 524.30 L156.00 524.30 L156.50 524.30 L157.00 524.30 L157.50 524.30 L158.00 524.30 L158.50 524.30 L159.00 524.30 L159.50 524.30 L160.00 524.30 L160.50 524.30 L161.00 524.30 L161.50 524.30 L162.00 524.30 L162.50 524.30 L163.00 524.30 L163.50 524.30 L164.00 524.30 L164.50 524.30 L165.00 524.30 L165.50 524.30 L166.00 524.30 L166.50 524.30 L167.00 524.30 L167.50 524.25 L168.00 524.20 L168.50 524.15 L169.00 524.10 L169.50 524.05 L170.00 524.00 L170.50 523.95 L171.00 523.90 L171.50 523.85 L172.00 523.80 L172.50 523.86 L173.00 523.91 L173.50 523.97 L174.00 524.03 L174.50 524.09 L175.00 524.14 L175.50 524.20 L176.00 524.60 L176.50 525.00 L177.00 525.40 L177.00 528.60 L176.50 529.00 L176.00 529.40 L175.50 529.80 L175.00 529.86 L174.50 529.91 L174.00 529.97 L173.50 530.03 L173.00 530.09 L172.50 530.14 L172.00 530.20 L171.50 530.17 L171.00 530.14 L170.50 530.11 L170.00 530.08 L169.50 530.05 L169.00 530.02 L168.50 529.99 L168.00 529.96 L167.50 529.93 L167.00 529.90 L166.50 529.90 L166.00 529.90 L165.50 529.90 L165.00 529.90 L164.50 529.90 L164.00 529.90 L163.50 529.90 L163.00 529.90 L162.50 529.90 L162.00 529.90 L161.50 529.90 L161.00 529.90 L160.50 529.90 L160.00 529.90 L159.50 529.90 L159.00 529.90 L158.50 529.90 L158.00 529.90 L157.50 529.90 L157.00 529.90 L156.50 529.90 L156.00 529.90 L155.50 529.90 L155.00 529.90 L154.50 529.90 L154.00 529.90 L153.50 529.90 L153.00 529.90 L152.50 529.90 L152.00 529.90 L151.50 529.90 L151.00 529.90 L150.50 529.90 L150.00 529.90 L149.50 529.91 L149.00 529.92 L148.50 529.93 L148.00 529.94 L147.50 529.96 L147.00 529.97 L146.50 529.98 L146.00 529.99 L145.50 530.00 L145.00 529.90 L144.50 529.80 L144.00 529.70 L143.50 529.60 L143.00 529.60 L142.50 529.60 L142.00 529.60 L141.50 529.60 L141.00 529.57 L140.50 529.51 L140.00 529.46 L139.50 529.40 L139.00 529.40 L138.50 529.40 L138.00 529.40 L137.50 529.40 L137.00 529.40 L136.50 529.40 L136.00 529.40 L135.50 529.40 L135.00 529.45 L134.50 529.50 L134.00 529.54 L133.50 529.59 L133.00 529.57 L132.50 529.54 L132.00 529.50 L131.50 529.47 L131.00 529.43 L130.50 529.40 L130.00 529.40 L129.50 529.40 L129.00 529.40 L128.50 529.40 L128.00 529.40 L127.50 529.40 L127.00 529.40 L126.50 529.40 L126.00 529.40 L125.50 529.40 L125.00 529.40 L124.50 529.40 L124.00 529.40 L123.50 529.40 L123.00 529.40 L122.50 529.40 L122.00 529.40 L121.50 529.40 L121.00 529.40 L120.50 529.44 L120.00 529.47 L119.50 529.51 L119.00 529.55 L118.50 529.59 L118.00 529.60 L117.50 529.60 L117.00 529.60 L116.50 529.60 L116.00 529.60 L115.50 529.60 L115.00 529.60 L114.50 529.63 L114.00 529.67 L113.50 529.70 L113.00 529.73 L112.50 529.77 L112.00 529.80 L111.50 529.76 L111.00 529.72 L110.50 529.69 L110.00 529.65 L109.50 529.61 L109.00 529.58 L108.50 529.54 L108.00 529.50 L107.50 529.54 L107.00 529.58 L106.50 529.62 L106.00 529.66 L105.50 529.70 L105.00 529.74 L104.50 529.78 L104.00 529.82 L103.50 529.86 L103.00 529.90 L102.50 529.85 L102.00 529.80 L101.50 529.75 L101.00 529.70 L100.50 529.65 L100.00 529.60 L99.50 529.62 L99.00 529.65 L98.50 529.68 L98.00 529.70 L97.50 529.73 L97.00 529.75 L96.50 529.77 L96.00 529.80 L95.50 529.93 L95.00 530.07 L94.50 530.20 L94.00 530.33 L93.50 530.47 L93.00 530.60 L92.50 530.57 L92.00 530.54 L91.50 530.51 L91.00 530.48 L90.50 530.45 L90.00 530.42 L89.50 530.43 L89.00 530.51 L88.50 530.59 L88.00 530.68 L87.50 530.76 L87.00 530.84 L86.50 530.92 L86.00 531.00 L85.50 530.93 L85.00 530.85 L84.50 530.77 L84.00 530.70 L83.50 530.62 L83.00 530.55 L82.50 530.47 L82.00 530.40 L81.50 530.45 L81.00 530.50 L80.50 530.55 L80.00 530.60 L79.50 530.65 L79.00 530.70 L78.50 530.75 L78.00 530.80 L77.50 530.73 L77.00 530.65 L76.50 530.58 L76.00 530.50 L75.50 530.42 L75.00 530.35 L74.50 530.27 L74.00 530.20 L73.50 530.24 L73.00 530.28 L72.50 530.31 L72.00 530.35 L71.50 530.39 L71.00 530.43 L70.50 530.46 L70.00 530.50 L69.50 530.50 L69.00 530.50 L68.50 530.50 L68.00 530.50 L67.50 530.50 L67.00 530.50 L66.50 530.45 L66.00 530.40 L65.50 530.35 L65.00 530.30 L64.50 530.25 L64.00 530.20 L63.50 530.32 L63.00 530.44 L62.50 530.56 L62.00 530.68 L61.50 530.80 L61.00 530.49 L60.50 530.17 L60.00 529.86 L59.50 529.54 L59.00 529.23 L58.50 528.91 L58.00 528.60 L57.50 528.52 L57.00 528.45 L56.50 528.38 L56.00 528.30 L55.50 528.23 L55.00 528.15 L54.50 528.08 L54.00 528.00 L53.50 527.95 L53.00 527.90 L52.50 527.85 L52.00 527.80 L51.50 527.75 L51.00 527.70 L50.50 527.72 L50.00 527.73 L49.50 527.75 L49.00 527.77 L48.50 527.78 L48.00 527.80 L47.50 527.73 L47.00 527.67 L46.50 527.60 L46.00 527.53 L45.50 527.47 L45.00 527.40 L44.50 527.44 L44.00 527.48 L43.50 527.52 L43.00 527.56 L42.50 527.60 L42.00 527.68 L41.50 527.76 L41.00 527.84 L40.50 527.92 L40.00 528.00 L39.50 528.02 L39.00 528.04 L38.50 528.06 L38.00 528.08 L37.50 528.10 L37.00 528.14 L36.50 528.19 L36.00 528.23 L35.50 528.27 L35.00 528.31 L34.50 528.36 L34.00 528.40 L33.50 528.60 L33.00 528.80 L32.50 529.00 L32.00 529.20 L31.50 529.40 L31.00 529.12 L30.50 528.84 L30.00 528.56 L29.50 528.28 L29.00 528.00Z" fill="#050505"/>
<line x1="97" y1="521.2" x2="97" y2="526" stroke="#0a0a0a" stroke-width="2.70" stroke-linecap="round"/>
<line x1="103.3" y1="522.2" x2="103.3" y2="526" stroke="#0a0a0a" stroke-width="2.55" stroke-linecap="round"/>
<line x1="108" y1="522.2" x2="108" y2="526" stroke="#0a0a0a" stroke-width="2.40" stroke-linecap="round"/>
<line x1="111.5" y1="522.2" x2="111.5" y2="526" stroke="#0a0a0a" stroke-width="2.40" stroke-linecap="round"/>
<line x1="118.3" y1="521.2" x2="118.3" y2="526" stroke="#0a0a0a" stroke-width="1.95" stroke-linecap="round"/>
<line x1="123.6" y1="519.7" x2="123.6" y2="526" stroke="#0a0a0a" stroke-width="1.80" stroke-linecap="round"/>
<line x1="128" y1="521.2" x2="128" y2="526" stroke="#0a0a0a" stroke-width="1.65" stroke-linecap="round"/>
<line x1="133.4" y1="520.2" x2="133.4" y2="526" stroke="#0a0a0a" stroke-width="1.80" stroke-linecap="round"/>
<line x1="137.8" y1="521.7" x2="137.8" y2="526" stroke="#0a0a0a" stroke-width="1.65" stroke-linecap="round"/>
<line x1="141.3" y1="516.7" x2="141.3" y2="526" stroke="#0a0a0a" stroke-width="1.65" stroke-linecap="round"/>
<line x1="145.2" y1="515.0" x2="145.2" y2="526" stroke="#0a0a0a" stroke-width="1.95" stroke-linecap="round"/>
<line x1="46" y1="522.7" x2="46" y2="526" stroke="#0a0a0a" stroke-width="2.55" stroke-linecap="round"/>
<line x1="74.3" y1="523.7" x2="74.3" y2="526" stroke="#0a0a0a" stroke-width="2.55" stroke-linecap="round"/>
<line x1="82" y1="523.7" x2="82" y2="526" stroke="#0a0a0a" stroke-width="2.55" stroke-linecap="round"/>
<line x1="89.7" y1="523.2" x2="89.7" y2="526" stroke="#0a0a0a" stroke-width="2.55" stroke-linecap="round"/>
<ellipse cx="172.8" cy="524.5" rx="3.6" ry="5.2" fill="#050505"/>
</g>
<text x="305.30" y="479.75" font-size="9.3" textLength="4.6" lengthAdjust="spacingAndGlyphs" fill="#333" stroke="#333" stroke-width="0.1">F</text>
<rect x="304.2" y="486.7" width="187.0" height="55.19999999999999" fill="none" stroke="#1a1a1a" stroke-width="1.1"/>
<line x1="350.4" y1="486.7" x2="350.4" y2="541.9" stroke="#1a1a1a" stroke-width="1.1"/>
<line x1="378.5" y1="486.7" x2="378.5" y2="541.9" stroke="#1a1a1a" stroke-width="1.1"/>
<line x1="408.1" y1="486.7" x2="408.1" y2="541.9" stroke="#1a1a1a" stroke-width="1.1"/>
<line x1="436.9" y1="486.7" x2="436.9" y2="541.9" stroke="#1a1a1a" stroke-width="1.1"/>
<line x1="462.7" y1="486.7" x2="462.7" y2="541.9" stroke="#1a1a1a" stroke-width="1.1"/>
<line x1="304.2" y1="499.8" x2="491.2" y2="499.8" stroke="#1a1a1a" stroke-width="1.1"/>
<line x1="304.2" y1="514.4" x2="491.2" y2="514.4" stroke="#1a1a1a" stroke-width="1.1"/>
<line x1="304.2" y1="528.1" x2="491.2" y2="528.1" stroke="#1a1a1a" stroke-width="1.1"/>
<text x="307.70" y="493.80" font-size="6.4" font-weight="bold" textLength="23.1" lengthAdjust="spacingAndGlyphs" fill="#1a1a1a" stroke="#1a1a1a" stroke-width="0.12">Cell line</text>
<text x="354.80" y="493.80" font-size="6.4" font-weight="bold" textLength="10.6" lengthAdjust="spacingAndGlyphs" fill="#1a1a1a" stroke="#1a1a1a" stroke-width="0.12">3T3</text>
<text x="383.70" y="493.80" font-size="6.4" font-weight="bold" textLength="14.8" lengthAdjust="spacingAndGlyphs" fill="#1a1a1a" stroke="#1a1a1a" stroke-width="0.12">COS7</text>
<text x="412.70" y="493.80" font-size="6.4" font-weight="bold" textLength="14" lengthAdjust="spacingAndGlyphs" fill="#1a1a1a" stroke="#1a1a1a" stroke-width="0.12">HeLa</text>
<text x="441.70" y="493.80" font-size="6.4" font-weight="bold" textLength="11" lengthAdjust="spacingAndGlyphs" fill="#1a1a1a" stroke="#1a1a1a" stroke-width="0.12">HEK</text>
<text x="465.80" y="493.80" font-size="6.4" font-weight="bold" textLength="15.7" lengthAdjust="spacingAndGlyphs" fill="#1a1a1a" stroke="#1a1a1a" stroke-width="0.12">U2OS</text>
<text x="307.70" y="507.90" font-size="6.4" textLength="24" lengthAdjust="spacingAndGlyphs" fill="#505050" stroke="#505050" stroke-width="0.08">ATL3, ng</text>
<text x="352.90" y="507.90" font-size="6.4" textLength="12.9" lengthAdjust="spacingAndGlyphs" fill="#505050" stroke="#505050" stroke-width="0.08">44.6</text>
<text x="383.00" y="507.90" font-size="6.4" textLength="13.2" lengthAdjust="spacingAndGlyphs" fill="#505050" stroke="#505050" stroke-width="0.08">31.0</text>
<text x="412.30" y="507.90" font-size="6.4" textLength="12.5" lengthAdjust="spacingAndGlyphs" fill="#505050" stroke="#505050" stroke-width="0.08">48.5</text>
<text x="440.20" y="507.90" font-size="6.4" textLength="12.1" lengthAdjust="spacingAndGlyphs" fill="#505050" stroke="#505050" stroke-width="0.08">7.75</text>
<text x="465.80" y="507.90" font-size="6.4" textLength="12.3" lengthAdjust="spacingAndGlyphs" fill="#505050" stroke="#505050" stroke-width="0.08">38.7</text>
<text x="307.70" y="521.70" font-size="6.4" textLength="24" lengthAdjust="spacingAndGlyphs" fill="#505050" stroke="#505050" stroke-width="0.08">ATL2, ng</text>
<text x="355.80" y="521.70" font-size="6.4" textLength="13" lengthAdjust="spacingAndGlyphs" fill="#505050" stroke="#505050" stroke-width="0.08">9.64</text>
<text x="386.50" y="521.70" font-size="6.4" textLength="13.1" lengthAdjust="spacingAndGlyphs" fill="#505050" stroke="#505050" stroke-width="0.08">9.44</text>
<text x="415.80" y="521.70" font-size="6.4" textLength="12.3" lengthAdjust="spacingAndGlyphs" fill="#505050" stroke="#505050" stroke-width="0.08">6.79</text>
<text x="440.20" y="521.70" font-size="6.4" textLength="12.1" lengthAdjust="spacingAndGlyphs" fill="#505050" stroke="#505050" stroke-width="0.08">3.01</text>
<text x="465.80" y="521.70" font-size="6.4" textLength="12.3" lengthAdjust="spacingAndGlyphs" fill="#505050" stroke="#505050" stroke-width="0.08">12.5</text>
<text x="307.70" y="534.60" font-size="6.4" font-weight="bold" textLength="29.8" lengthAdjust="spacingAndGlyphs" fill="#1a1a1a" stroke="#1a1a1a" stroke-width="0.12">ATL3/ATL2</text>
<text x="356.70" y="534.60" font-size="6.4" font-weight="bold" textLength="7.7" lengthAdjust="spacingAndGlyphs" fill="#1a1a1a" stroke="#1a1a1a" stroke-width="0.12">4.6</text>
<text x="386.50" y="534.60" font-size="6.4" font-weight="bold" textLength="8.7" lengthAdjust="spacingAndGlyphs" fill="#1a1a1a" stroke="#1a1a1a" stroke-width="0.12">3.3</text>
<text x="414.20" y="534.60" font-size="6.4" font-weight="bold" textLength="8.7" lengthAdjust="spacingAndGlyphs" fill="#1a1a1a" stroke="#1a1a1a" stroke-width="0.12">7.1</text>
<text x="443.10" y="534.60" font-size="6.4" font-weight="bold" textLength="9.2" lengthAdjust="spacingAndGlyphs" fill="#1a1a1a" stroke="#1a1a1a" stroke-width="0.12">2.6</text>
<text x="469.00" y="534.60" font-size="6.4" font-weight="bold" textLength="8.7" lengthAdjust="spacingAndGlyphs" fill="#1a1a1a" stroke="#1a1a1a" stroke-width="0.12">2.3</text>
</g></svg>
</body></html>
